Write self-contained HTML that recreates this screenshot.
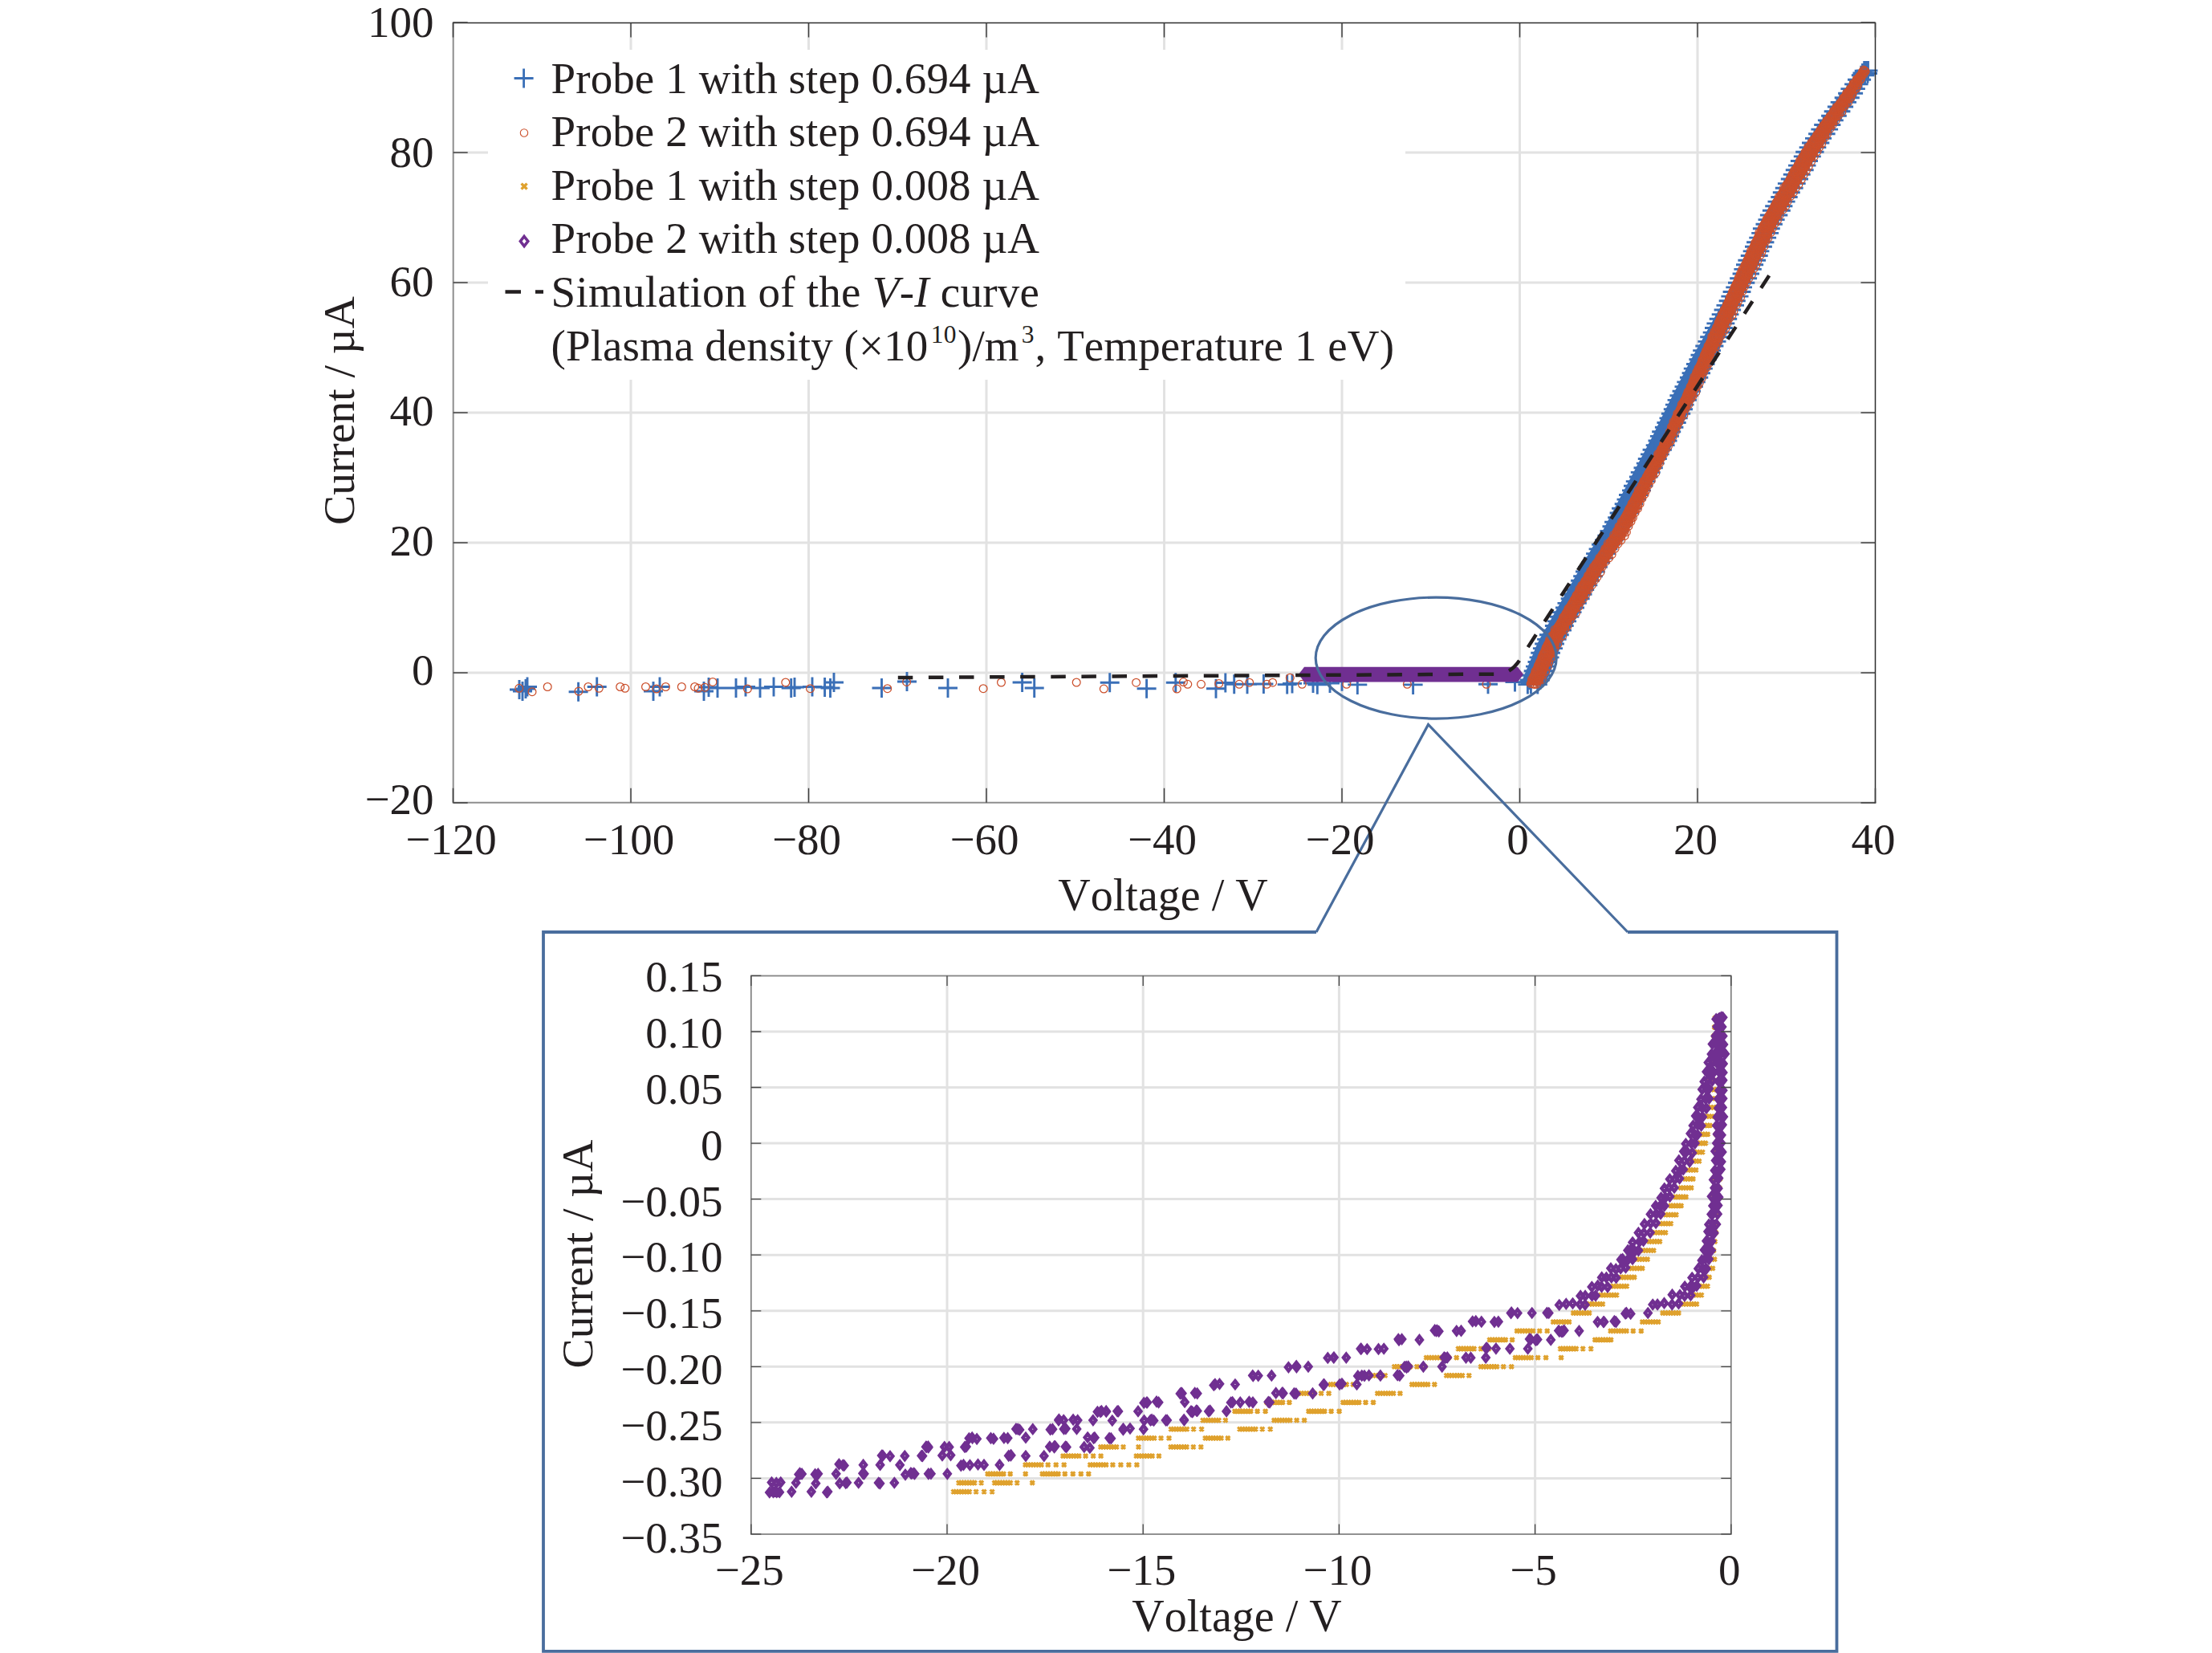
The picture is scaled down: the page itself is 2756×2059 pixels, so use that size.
<!DOCTYPE html>
<html><head><meta charset="utf-8"><title>V-I curve</title>
<style>html,body{margin:0;padding:0;background:#fff}body{width:2756px;height:2059px;overflow:hidden;font-family:"Liberation Serif",serif}</style>
</head><body>
<svg width="2756" height="2059" viewBox="0 0 2756 2059" style="display:block">
<rect width="2756" height="2059" fill="#fff"/>
<path d="M786.0,28.4V999.8M1007.5,28.4V999.8M1229.0,28.4V999.8M1450.5,28.4V999.8M1672.0,28.4V999.8M1893.5,28.4V999.8M2115.0,28.4V999.8M564.7,838.0H2336.5M564.7,676.0H2336.5M564.7,514.0H2336.5M564.7,352.0H2336.5M564.7,190.0H2336.5" stroke="#e2e2e2" stroke-width="3" fill="none"/>
<path d="M1894.5,852.6 L1896.8,847.0 L1899.1,841.3 L1901.3,835.7 L1903.7,830.1 L1906.0,824.5 L1908.3,818.9 L1910.6,813.2 L1912.9,807.6 L1915.3,802.0 L1918.1,796.4 L1921.3,790.7 L1924.6,785.1 L1927.8,779.5 L1931.0,773.9 L1934.2,768.3 L1937.4,762.6 L1940.6,757.0 L1943.8,751.4 L1947.0,745.8 L1950.2,740.2 L1953.4,734.5 L1956.6,728.9 L1959.9,723.3 L1963.1,717.7 L1966.3,712.0 L1969.6,706.4 L1972.9,700.8 L1976.2,695.2 L1979.5,689.6 L1982.8,683.9 L1986.0,678.3 L1989.6,672.7 L1993.4,667.1 L1996.6,661.5 L1999.6,655.8 L2002.6,650.2 L2005.5,644.6 L2008.5,639.0 L2011.5,633.3 L2014.4,627.7 L2017.4,622.1 L2020.4,616.5 L2023.3,610.9 L2026.3,605.2 L2029.3,599.6 L2032.3,594.0 L2035.2,588.4 L2038.2,582.8 L2041.2,577.1 L2044.1,571.5 L2047.1,565.9 L2050.1,560.3 L2053.0,554.6 L2056.0,549.0 L2058.9,543.4 L2061.6,537.8 L2064.3,532.2 L2067.1,526.5 L2069.8,520.9 L2072.6,515.3 L2075.4,509.7 L2078.2,504.1 L2081.0,498.4 L2083.9,492.8 L2086.7,487.2 L2089.6,481.6 L2092.4,475.9 L2095.3,470.3 L2098.2,464.7 L2101.1,459.1 L2104.0,453.5 L2106.9,447.8 L2110.0,442.2 L2113.2,436.6 L2116.3,431.0 L2119.5,425.4 L2122.6,419.7 L2125.8,414.1 L2128.9,408.5 L2132.0,402.9 L2135.2,397.2 L2138.3,391.6 L2141.5,386.0 L2144.6,380.4 L2147.8,374.8 L2150.9,369.1 L2154.1,363.5 L2157.2,357.9 L2160.3,352.3 L2163.0,346.7 L2165.6,341.0 L2168.2,335.4 L2170.9,329.8 L2173.5,324.2 L2176.1,318.5 L2178.7,312.9 L2181.3,307.3 L2184.0,301.7 L2186.6,296.1 L2189.2,290.4 L2191.8,284.8 L2194.5,279.2 L2197.6,273.6 L2200.8,268.0 L2203.9,262.3 L2207.1,256.7 L2210.2,251.1 L2213.4,245.5 L2216.5,239.8 L2219.7,234.2 L2222.8,228.6 L2226.0,223.0 L2229.1,217.4 L2232.3,211.7 L2235.5,206.1 L2238.6,200.5 L2241.8,194.9 L2245.0,189.3 L2248.8,183.6 L2252.6,178.0 L2256.3,172.4 L2260.1,166.8 L2263.9,161.1 L2267.7,155.5 L2271.9,149.9 L2276.1,144.3 L2280.3,138.7 L2284.6,133.0 L2288.8,127.4 L2293.0,121.8 L2297.2,116.2 L2301.5,110.6 L2305.7,104.9 L2309.9,99.3 L2314.2,93.7 L2318.4,88.1 L2331.4,88.1 L2327.8,93.7 L2324.2,99.3 L2320.5,104.9 L2316.9,110.6 L2313.3,116.2 L2309.7,121.8 L2305.9,127.4 L2301.9,133.0 L2297.8,138.7 L2293.8,144.3 L2289.8,149.9 L2285.8,155.5 L2282.3,161.1 L2278.7,166.8 L2275.2,172.4 L2271.6,178.0 L2268.0,183.6 L2264.5,189.3 L2261.2,194.9 L2258.0,200.5 L2254.9,206.1 L2251.7,211.7 L2248.5,217.4 L2245.3,223.0 L2242.1,228.6 L2238.9,234.2 L2235.7,239.8 L2232.5,245.5 L2229.3,251.1 L2226.2,256.7 L2223.0,262.3 L2219.8,268.0 L2216.6,273.6 L2213.4,279.2 L2210.7,284.8 L2208.1,290.4 L2205.4,296.1 L2202.8,301.7 L2200.1,307.3 L2197.5,312.9 L2194.8,318.5 L2192.2,324.2 L2189.5,329.8 L2186.8,335.4 L2184.2,341.0 L2181.5,346.7 L2178.9,352.3 L2176.4,357.9 L2173.8,363.5 L2171.3,369.1 L2168.8,374.8 L2166.2,380.4 L2163.7,386.0 L2161.2,391.6 L2158.7,397.2 L2156.1,402.9 L2153.6,408.5 L2151.1,414.1 L2148.6,419.7 L2146.0,425.4 L2143.5,431.0 L2141.0,436.6 L2138.5,442.2 L2135.9,447.8 L2133.2,453.5 L2130.4,459.1 L2127.6,464.7 L2124.8,470.3 L2122.1,475.9 L2119.3,481.6 L2116.5,487.2 L2113.7,492.8 L2111.0,498.4 L2108.3,504.1 L2105.5,509.7 L2102.8,515.3 L2100.0,520.9 L2097.3,526.5 L2094.5,532.2 L2091.8,537.8 L2089.1,543.4 L2086.2,549.0 L2083.2,554.6 L2080.3,560.3 L2077.3,565.9 L2074.3,571.5 L2071.4,577.1 L2068.4,582.8 L2065.4,588.4 L2062.5,594.0 L2059.5,599.6 L2056.5,605.2 L2053.5,610.9 L2050.6,616.5 L2047.6,622.1 L2044.6,627.7 L2041.7,633.3 L2038.7,639.0 L2035.7,644.6 L2032.8,650.2 L2029.8,655.8 L2026.8,661.5 L2023.6,667.1 L2019.8,672.7 L2016.3,678.3 L2013.0,683.9 L2009.7,689.6 L2006.5,695.2 L2003.2,700.8 L1999.9,706.4 L1996.7,712.0 L1993.4,717.7 L1990.2,723.3 L1987.0,728.9 L1983.8,734.5 L1980.7,740.2 L1977.5,745.8 L1974.3,751.4 L1971.1,757.0 L1967.9,762.6 L1964.7,768.3 L1961.5,773.9 L1958.3,779.5 L1955.2,785.1 L1952.0,790.7 L1948.8,796.4 L1945.9,802.0 L1943.6,807.6 L1941.3,813.2 L1939.0,818.9 L1936.7,824.5 L1934.4,830.1 L1932.1,835.7 L1929.9,841.3 L1927.6,847.0 L1925.3,852.6Z" fill="#3a6fb7"/>
<path d="M1891.4,852.6h24M1903.4,840.6v24M1903.8,852.6h24M1915.8,840.6v24M1893.8,847.0h24M1905.8,835.0v24M1906.9,847.0h24M1918.9,835.0v24M1895.7,841.3h24M1907.7,829.3v24M1908.3,841.3h24M1920.3,829.3v24M1898.7,835.7h24M1910.7,823.7v24M1910.9,835.7h24M1922.9,823.7v24M1901.0,830.1h24M1913.0,818.1v24M1913.1,830.1h24M1925.1,818.1v24M1903.5,824.5h24M1915.5,812.5v24M1915.4,824.5h24M1927.4,812.5v24M1905.6,818.9h24M1917.6,806.9v24M1918.5,818.9h24M1930.5,806.9v24M1907.3,813.2h24M1919.3,801.2v24M1919.9,813.2h24M1931.9,801.2v24M1909.9,807.6h24M1921.9,795.6v24M1923.0,807.6h24M1935.0,795.6v24M1912.2,802.0h24M1924.2,790.0v24M1924.9,802.0h24M1936.9,790.0v24M1915.1,796.4h24M1927.1,784.4v24M1927.6,796.4h24M1939.6,784.4v24M1918.0,790.7h24M1930.0,778.7v24M1930.7,790.7h24M1942.7,778.7v24M1921.6,785.1h24M1933.6,773.1v24M1934.0,785.1h24M1946.0,773.1v24M1924.9,779.5h24M1936.9,767.5v24M1936.7,779.5h24M1948.7,767.5v24M1927.9,773.9h24M1939.9,761.9v24M1940.1,773.9h24M1952.1,761.9v24M1930.7,768.3h24M1942.7,756.3v24M1943.4,768.3h24M1955.4,756.3v24M1934.1,762.6h24M1946.1,750.6v24M1946.5,762.6h24M1958.5,750.6v24M1938.0,757.0h24M1950.0,745.0v24M1950.0,757.0h24M1962.0,745.0v24M1940.5,751.4h24M1952.5,739.4v24M1952.8,751.4h24M1964.8,739.4v24M1944.7,745.8h24M1956.7,733.8v24M1956.6,745.8h24M1968.6,733.8v24M1947.0,740.2h24M1959.0,728.2v24M1959.5,740.2h24M1971.5,728.2v24M1950.6,734.5h24M1962.6,722.5v24M1962.2,734.5h24M1974.2,722.5v24M1953.8,728.9h24M1965.8,716.9v24M1966.3,728.9h24M1978.3,716.9v24M1957.1,723.3h24M1969.1,711.3v24M1969.1,723.3h24M1981.1,711.3v24M1960.2,717.7h24M1972.2,705.7v24M1972.9,717.7h24M1984.9,705.7v24M1963.0,712.0h24M1975.0,700.0v24M1975.8,712.0h24M1987.8,700.0v24M1966.3,706.4h24M1978.3,694.4v24M1978.8,706.4h24M1990.8,694.4v24M1970.2,700.8h24M1982.2,688.8v24M1982.1,700.8h24M1994.1,688.8v24M1973.2,695.2h24M1985.2,683.2v24M1985.9,695.2h24M1997.9,683.2v24M1976.1,689.6h24M1988.1,677.6v24M1989.2,689.6h24M2001.2,677.6v24M1979.6,683.9h24M1991.6,671.9v24M1991.4,683.9h24M2003.4,671.9v24M1983.1,678.3h24M1995.1,666.3v24M1994.8,678.3h24M2006.8,666.3v24M1987.1,672.7h24M1999.1,660.7v24M1998.6,672.7h24M2010.6,660.7v24M1990.4,667.1h24M2002.4,655.1v24M2002.3,667.1h24M2014.3,655.1v24M1993.5,661.5h24M2005.5,649.5v24M2005.4,661.5h24M2017.4,649.5v24M1996.5,655.8h24M2008.5,643.8v24M2008.5,655.8h24M2020.5,643.8v24M1999.1,650.2h24M2011.1,638.2v24M2011.1,650.2h24M2023.1,638.2v24M2003.2,644.6h24M2015.2,632.6v24M2014.2,644.6h24M2026.2,632.6v24M2005.6,639.0h24M2017.6,627.0v24M2018.0,639.0h24M2030.0,627.0v24M2008.1,633.3h24M2020.1,621.3v24M2021.0,633.3h24M2033.0,621.3v24M2011.7,627.7h24M2023.7,615.7v24M2023.0,627.7h24M2035.0,615.7v24M2014.5,622.1h24M2026.5,610.1v24M2026.7,622.1h24M2038.7,610.1v24M2017.0,616.5h24M2029.0,604.5v24M2029.2,616.5h24M2041.2,604.5v24M2021.0,610.9h24M2033.0,598.9v24M2033.0,610.9h24M2045.0,598.9v24M2023.0,605.2h24M2035.0,593.2v24M2035.4,605.2h24M2047.4,593.2v24M2025.8,599.6h24M2037.8,587.6v24M2038.4,599.6h24M2050.4,587.6v24M2029.9,594.0h24M2041.9,582.0v24M2041.6,594.0h24M2053.6,582.0v24M2031.8,588.4h24M2043.8,576.4v24M2044.7,588.4h24M2056.7,576.4v24M2035.5,582.8h24M2047.5,570.8v24M2047.8,582.8h24M2059.8,570.8v24M2038.8,577.1h24M2050.8,565.1v24M2049.8,577.1h24M2061.8,565.1v24M2040.8,571.5h24M2052.8,559.5v24M2052.8,571.5h24M2064.8,559.5v24M2044.0,565.9h24M2056.0,553.9v24M2055.7,565.9h24M2067.7,553.9v24M2046.6,560.3h24M2058.6,548.3v24M2058.9,560.3h24M2070.9,548.3v24M2050.7,554.6h24M2062.7,542.6v24M2062.6,554.6h24M2074.6,542.6v24M2053.5,549.0h24M2065.5,537.0v24M2065.5,549.0h24M2077.5,537.0v24M2055.9,543.4h24M2067.9,531.4v24M2068.0,543.4h24M2080.0,531.4v24M2058.2,537.8h24M2070.2,525.8v24M2070.2,537.8h24M2082.2,525.8v24M2061.9,532.2h24M2073.9,520.2v24M2073.4,532.2h24M2085.4,520.2v24M2064.4,526.5h24M2076.4,514.5v24M2076.7,526.5h24M2088.7,514.5v24M2067.5,520.9h24M2079.5,508.9v24M2078.7,520.9h24M2090.7,508.9v24M2069.9,515.3h24M2081.9,503.3v24M2082.2,515.3h24M2094.2,503.3v24M2072.8,509.7h24M2084.8,497.7v24M2085.0,509.7h24M2097.0,497.7v24M2074.9,504.1h24M2086.9,492.1v24M2086.6,504.1h24M2098.6,492.1v24M2077.6,498.4h24M2089.6,486.4v24M2089.9,498.4h24M2101.9,486.4v24M2080.4,492.8h24M2092.4,480.8v24M2092.1,492.8h24M2104.1,480.8v24M2083.6,487.2h24M2095.6,475.2v24M2095.1,487.2h24M2107.1,475.2v24M2086.5,481.6h24M2098.5,469.6v24M2097.9,481.6h24M2109.9,469.6v24M2089.3,475.9h24M2101.3,463.9v24M2100.8,475.9h24M2112.8,463.9v24M2092.9,470.3h24M2104.9,458.3v24M2104.3,470.3h24M2116.3,458.3v24M2095.6,464.7h24M2107.6,452.7v24M2107.0,464.7h24M2119.0,452.7v24M2097.8,459.1h24M2109.8,447.1v24M2109.8,459.1h24M2121.8,447.1v24M2101.0,453.5h24M2113.0,441.5v24M2112.5,453.5h24M2124.5,441.5v24M2104.4,447.8h24M2116.4,435.8v24M2114.8,447.8h24M2126.8,435.8v24M2106.5,442.2h24M2118.5,430.2v24M2117.8,442.2h24M2129.8,430.2v24M2109.2,436.6h24M2121.2,424.6v24M2120.0,436.6h24M2132.0,424.6v24M2112.3,431.0h24M2124.3,419.0v24M2123.4,431.0h24M2135.4,419.0v24M2115.4,425.4h24M2127.4,413.4v24M2126.5,425.4h24M2138.5,413.4v24M2118.2,419.7h24M2130.2,407.7v24M2128.9,419.7h24M2140.9,407.7v24M2121.7,414.1h24M2133.7,402.1v24M2132.2,414.1h24M2144.2,402.1v24M2124.0,408.5h24M2136.0,396.5v24M2134.9,408.5h24M2146.9,396.5v24M2126.4,402.9h24M2138.4,390.9v24M2137.3,402.9h24M2149.3,390.9v24M2129.7,397.2h24M2141.7,385.2v24M2140.2,397.2h24M2152.2,385.2v24M2132.7,391.6h24M2144.7,379.6v24M2142.4,391.6h24M2154.4,379.6v24M2135.6,386.0h24M2147.6,374.0v24M2145.1,386.0h24M2157.1,374.0v24M2138.5,380.4h24M2150.5,368.4v24M2149.0,380.4h24M2161.0,368.4v24M2141.7,374.8h24M2153.7,362.8v24M2150.8,374.8h24M2162.8,362.8v24M2144.4,369.1h24M2156.4,357.1v24M2154.5,369.1h24M2166.5,357.1v24M2146.6,363.5h24M2158.6,351.5v24M2157.4,363.5h24M2169.4,351.5v24M2150.3,357.9h24M2162.3,345.9v24M2159.0,357.9h24M2171.0,345.9v24M2153.0,352.3h24M2165.0,340.3v24M2162.3,352.3h24M2174.3,340.3v24M2155.2,346.7h24M2167.2,334.7v24M2165.1,346.7h24M2177.1,334.7v24M2158.6,341.0h24M2170.6,329.0v24M2168.0,341.0h24M2180.0,329.0v24M2160.4,335.4h24M2172.4,323.4v24M2170.8,335.4h24M2182.8,323.4v24M2163.0,329.8h24M2175.0,317.8v24M2173.1,329.8h24M2185.1,317.8v24M2165.4,324.2h24M2177.4,312.2v24M2176.1,324.2h24M2188.1,312.2v24M2168.8,318.5h24M2180.8,306.5v24M2178.7,318.5h24M2190.7,306.5v24M2171.7,312.9h24M2183.7,300.9v24M2180.4,312.9h24M2192.4,300.9v24M2174.0,307.3h24M2186.0,295.3v24M2183.9,307.3h24M2195.9,295.3v24M2176.1,301.7h24M2188.1,289.7v24M2186.4,301.7h24M2198.4,289.7v24M2179.3,296.1h24M2191.3,284.1v24M2189.1,296.1h24M2201.1,284.1v24M2182.2,290.4h24M2194.2,278.4v24M2192.1,290.4h24M2204.1,278.4v24M2183.9,284.8h24M2195.9,272.8v24M2193.8,284.8h24M2205.8,272.8v24M2187.5,279.2h24M2199.5,267.2v24M2196.9,279.2h24M2208.9,267.2v24M2190.5,273.6h24M2202.5,261.6v24M2199.6,273.6h24M2211.6,261.6v24M2192.9,268.0h24M2204.9,256.0v24M2203.3,268.0h24M2215.3,256.0v24M2195.9,262.3h24M2207.9,250.3v24M2206.8,262.3h24M2218.8,250.3v24M2199.2,256.7h24M2211.2,244.7v24M2209.4,256.7h24M2221.4,244.7v24M2202.5,251.1h24M2214.5,239.1v24M2212.6,251.1h24M2224.6,239.1v24M2206.3,245.5h24M2218.3,233.5v24M2215.7,245.5h24M2227.7,233.5v24M2208.8,239.8h24M2220.8,227.8v24M2218.8,239.8h24M2230.8,227.8v24M2211.8,234.2h24M2223.8,222.2v24M2222.6,234.2h24M2234.6,222.2v24M2214.9,228.6h24M2226.9,216.6v24M2225.7,228.6h24M2237.7,216.6v24M2218.8,223.0h24M2230.8,211.0v24M2229.0,223.0h24M2241.0,211.0v24M2221.8,217.4h24M2233.8,205.4v24M2231.7,217.4h24M2243.7,205.4v24M2224.8,211.7h24M2236.8,199.7v24M2235.7,211.7h24M2247.7,199.7v24M2228.0,206.1h24M2240.0,194.1v24M2238.5,206.1h24M2250.5,194.1v24M2230.9,200.5h24M2242.9,188.5v24M2241.0,200.5h24M2253.0,188.5v24M2234.8,194.9h24M2246.8,182.9v24M2244.8,194.9h24M2256.8,182.9v24M2237.2,189.3h24M2249.2,177.3v24M2248.5,189.3h24M2260.5,177.3v24M2241.7,183.6h24M2253.7,171.6v24M2251.3,183.6h24M2263.3,171.6v24M2245.0,178.0h24M2257.0,166.0v24M2255.3,178.0h24M2267.3,166.0v24M2249.0,172.4h24M2261.0,160.4v24M2258.1,172.4h24M2270.1,160.4v24M2253.1,166.8h24M2265.1,154.8v24M2262.6,166.8h24M2274.6,154.8v24M2256.4,161.1h24M2268.4,149.1v24M2266.1,161.1h24M2278.1,149.1v24M2260.2,155.5h24M2272.2,143.5v24M2269.3,155.5h24M2281.3,143.5v24M2264.9,149.9h24M2276.9,137.9v24M2272.8,149.9h24M2284.8,137.9v24M2269.1,144.3h24M2281.1,132.3v24M2276.8,144.3h24M2288.8,132.3v24M2272.7,138.7h24M2284.7,126.7v24M2281.4,138.7h24M2293.4,126.7v24M2276.9,133.0h24M2288.9,121.0v24M2285.1,133.0h24M2297.1,121.0v24M2280.7,127.4h24M2292.7,115.4v24M2289.0,127.4h24M2301.0,115.4v24M2285.7,121.8h24M2297.7,109.8v24M2292.8,121.8h24M2304.8,109.8v24M2290.1,116.2h24M2302.1,104.2v24M2297.1,116.2h24M2309.1,104.2v24M2293.4,110.6h24M2305.4,98.6v24M2299.9,110.6h24M2311.9,98.6v24M2298.1,104.9h24M2310.1,92.9v24M2303.6,104.9h24M2315.6,92.9v24M2302.0,99.3h24M2314.0,87.3v24M2307.1,99.3h24M2319.1,87.3v24M2306.8,93.7h24M2318.8,81.7v24M2311.5,93.7h24M2323.5,81.7v24M2310.7,88.1h24M2322.7,76.1v24M2315.2,88.1h24M2327.2,76.1v24M2315.5,88.0h24M2327.5,76.0v24M2315.0,91.5h24M2327.0,79.5v24M2313.0,88.0h24M2325.0,76.0v24M2310.8,88.3h24M2322.8,76.3v24M2308.5,91.0h24M2320.5,79.0v24M635.0,859.0h24M647.0,847.0v24M639.0,861.0h24M651.0,849.0v24M643.0,858.0h24M655.0,846.0v24M645.0,855.5h24M657.0,843.5v24M708.6,861.7h24M720.6,849.7v24M731.7,855.5h24M743.7,843.5v24M802.0,861.0h24M814.0,849.0v24M810.0,855.5h24M822.0,843.5v24M865.0,861.0h24M877.0,849.0v24M871.0,856.0h24M883.0,844.0v24M882.0,857.0h24M894.0,845.0v24M905.0,857.0h24M917.0,845.0v24M917.0,855.5h24M929.0,843.5v24M935.0,857.0h24M947.0,845.0v24M952.0,855.5h24M964.0,843.5v24M973.7,857.0h24M985.7,845.0v24M978.0,856.0h24M990.0,844.0v24M1000.0,855.5h24M1012.0,843.5v24M1015.6,856.0h24M1027.6,844.0v24M1022.5,857.0h24M1034.5,845.0v24M1027.0,850.0h24M1039.0,838.0v24M1086.5,857.0h24M1098.5,845.0v24M1118.0,849.0h24M1130.0,837.0v24M1169.0,857.0h24M1181.0,845.0v24M1261.6,850.0h24M1273.6,838.0v24M1276.7,857.0h24M1288.7,845.0v24M1370.7,850.2h24M1382.7,838.2v24M1416.6,857.8h24M1428.6,845.8v24M1452.8,850.2h24M1464.8,838.2v24M1503.0,857.8h24M1515.0,845.8v24M1514.8,850.5h24M1526.8,838.5v24M1525.7,852.3h24M1537.7,840.3v24M1542.0,852.3h24M1554.0,840.3v24M1562.4,852.0h24M1574.4,840.0v24M1591.7,852.6h24M1603.7,840.6v24M1598.0,851.4h24M1610.0,839.4v24M1624.0,851.0h24M1636.0,839.0v24M1629.3,852.8h24M1641.3,840.8v24M1645.0,851.0h24M1657.0,839.0v24M1660.0,848.7h24M1672.0,836.7v24M1679.3,852.9h24M1691.3,840.9v24M1748.6,852.9h24M1760.6,840.9v24M1842.0,852.3h24M1854.0,840.3v24M1875.5,849.6h24M1887.5,837.6v24M1895.4,852.3h24M1907.4,840.3v24" stroke="#3a6fb7" stroke-width="2.9" fill="none"/>
<path d="M1903.2,852.6 L1905.3,847.0 L1907.3,841.3 L1909.5,835.7 L1912.0,830.1 L1914.4,824.5 L1916.9,818.9 L1919.4,813.2 L1921.8,807.6 L1924.3,802.0 L1927.3,796.4 L1930.7,790.7 L1934.0,785.1 L1937.4,779.5 L1940.7,773.9 L1944.1,768.3 L1947.4,762.6 L1950.8,757.0 L1954.1,751.4 L1957.5,745.8 L1960.9,740.2 L1964.2,734.5 L1967.6,728.9 L1970.9,723.3 L1974.3,717.7 L1977.9,712.0 L1981.5,706.4 L1985.1,700.8 L1988.7,695.2 L1992.4,689.6 L1996.0,683.9 L1999.6,678.3 L2003.5,672.7 L2007.6,667.1 L2011.0,661.5 L2014.0,655.8 L2017.0,650.2 L2020.0,644.6 L2023.0,639.0 L2026.0,633.3 L2029.1,627.7 L2032.1,622.1 L2035.1,616.5 L2038.1,610.9 L2041.1,605.2 L2044.1,599.6 L2047.2,594.0 L2050.2,588.4 L2053.2,582.8 L2056.2,577.1 L2059.2,571.5 L2062.2,565.9 L2065.3,560.3 L2068.3,554.6 L2071.3,549.0 L2074.0,543.4 L2076.5,537.8 L2079.0,532.2 L2081.5,526.5 L2084.0,520.9 L2086.5,515.3 L2089.2,509.7 L2091.8,504.1 L2094.5,498.4 L2097.2,492.8 L2099.9,487.2 L2102.5,481.6 L2104.9,475.9 L2107.4,470.3 L2109.8,464.7 L2112.2,459.1 L2114.7,453.5 L2117.1,447.8 L2119.6,442.2 L2122.0,436.6 L2124.5,431.0 L2127.0,425.4 L2129.5,419.7 L2132.0,414.1 L2134.5,408.5 L2137.1,402.9 L2139.6,397.2 L2142.1,391.6 L2144.6,386.0 L2147.1,380.4 L2149.7,374.8 L2152.2,369.1 L2154.7,363.5 L2157.2,357.9 L2159.7,352.3 L2162.3,346.7 L2165.0,341.0 L2167.6,335.4 L2170.2,329.8 L2172.8,324.2 L2175.4,318.5 L2178.1,312.9 L2180.7,307.3 L2183.3,301.7 L2185.9,296.1 L2188.5,290.4 L2191.2,284.8 L2193.8,279.2 L2196.9,273.6 L2200.1,268.0 L2203.3,262.3 L2206.6,256.7 L2209.8,251.1 L2213.0,245.5 L2216.3,239.8 L2219.5,234.2 L2222.7,228.6 L2226.0,223.0 L2229.2,217.4 L2232.4,211.7 L2235.6,206.1 L2238.9,200.5 L2242.1,194.9 L2245.4,189.3 L2249.1,183.6 L2252.9,178.0 L2256.6,172.4 L2260.3,166.8 L2264.1,161.1 L2267.8,155.5 L2272.0,149.9 L2276.1,144.3 L2280.3,138.7 L2284.5,133.0 L2288.7,127.4 L2292.8,121.8 L2296.9,116.2 L2301.0,110.6 L2305.1,104.9 L2309.1,99.3 L2313.2,93.7 L2317.3,88.1 L2325.4,88.1 L2322.3,93.7 L2319.1,99.3 L2315.9,104.9 L2312.7,110.6 L2309.6,116.2 L2306.4,121.8 L2303.0,127.4 L2299.2,133.0 L2295.4,138.7 L2291.7,144.3 L2287.9,149.9 L2284.1,155.5 L2280.8,161.1 L2277.5,166.8 L2274.2,172.4 L2270.9,178.0 L2267.6,183.6 L2264.2,189.3 L2261.0,194.9 L2257.7,200.5 L2254.4,206.1 L2251.1,211.7 L2247.9,217.4 L2244.6,223.0 L2241.3,228.6 L2238.0,234.2 L2234.8,239.8 L2231.5,245.5 L2228.2,251.1 L2224.9,256.7 L2221.7,262.3 L2218.4,268.0 L2215.2,273.6 L2212.0,279.2 L2209.3,284.8 L2206.6,290.4 L2204.0,296.1 L2201.3,301.7 L2198.6,307.3 L2196.0,312.9 L2193.3,318.5 L2190.6,324.2 L2188.0,329.8 L2185.3,335.4 L2182.6,341.0 L2180.0,346.7 L2177.3,352.3 L2174.6,357.9 L2171.9,363.5 L2169.2,369.1 L2166.5,374.8 L2163.8,380.4 L2161.1,386.0 L2158.3,391.6 L2155.6,397.2 L2152.9,402.9 L2150.2,408.5 L2147.5,414.1 L2144.8,419.7 L2142.1,425.4 L2139.4,431.0 L2136.7,436.6 L2134.1,442.2 L2131.4,447.8 L2128.8,453.5 L2126.2,459.1 L2123.6,464.7 L2120.9,470.3 L2118.3,475.9 L2115.7,481.6 L2112.8,487.2 L2109.9,492.8 L2107.0,498.4 L2104.0,504.1 L2101.1,509.7 L2098.2,515.3 L2095.5,520.9 L2092.8,526.5 L2090.1,532.2 L2087.3,537.8 L2084.6,543.4 L2081.9,549.0 L2079.2,554.6 L2076.5,560.3 L2073.8,565.9 L2071.0,571.5 L2068.3,577.1 L2065.6,582.8 L2062.9,588.4 L2060.1,594.0 L2057.4,599.6 L2054.7,605.2 L2052.0,610.9 L2049.2,616.5 L2046.5,622.1 L2043.8,627.7 L2041.1,633.3 L2038.3,639.0 L2035.6,644.6 L2032.9,650.2 L2030.2,655.8 L2027.4,661.5 L2024.3,667.1 L2020.1,672.7 L2016.1,678.3 L2012.4,683.9 L2008.7,689.6 L2005.0,695.2 L2001.3,700.8 L1997.6,706.4 L1993.9,712.0 L1990.2,717.7 L1986.9,723.3 L1983.5,728.9 L1980.2,734.5 L1976.9,740.2 L1973.6,745.8 L1970.3,751.4 L1967.0,757.0 L1963.6,762.6 L1960.3,768.3 L1957.0,773.9 L1953.7,779.5 L1950.4,785.1 L1947.0,790.7 L1943.7,796.4 L1940.7,802.0 L1938.3,807.6 L1935.9,813.2 L1933.5,818.9 L1931.0,824.5 L1928.6,830.1 L1926.2,835.7 L1923.7,841.3 L1921.3,847.0 L1918.8,852.6Z" fill="#cb4f2b" fill-opacity="0.9" stroke="#cb4f2b" stroke-opacity="0.9" stroke-width="3" stroke-linejoin="round"/>
<g stroke="#cb4f2b" stroke-width="1.25" fill="none"><circle cx="1907.0" cy="851.4" r="4.7"/><circle cx="1909.8" cy="852.2" r="4.7"/><circle cx="1912.0" cy="852.6" r="4.7"/><circle cx="1914.8" cy="852.4" r="4.7"/><circle cx="1917.7" cy="851.4" r="4.7"/><circle cx="1908.3" cy="846.2" r="4.7"/><circle cx="1912.0" cy="848.2" r="4.7"/><circle cx="1914.9" cy="846.7" r="4.7"/><circle cx="1918.5" cy="845.7" r="4.7"/><circle cx="1921.3" cy="846.4" r="4.7"/><circle cx="1910.6" cy="842.2" r="4.7"/><circle cx="1913.5" cy="841.6" r="4.7"/><circle cx="1917.3" cy="841.0" r="4.7"/><circle cx="1920.2" cy="840.1" r="4.7"/><circle cx="1922.6" cy="840.5" r="4.7"/><circle cx="1912.8" cy="836.0" r="4.7"/><circle cx="1916.2" cy="835.2" r="4.7"/><circle cx="1919.8" cy="836.3" r="4.7"/><circle cx="1922.2" cy="835.9" r="4.7"/><circle cx="1925.7" cy="836.8" r="4.7"/><circle cx="1916.2" cy="829.0" r="4.7"/><circle cx="1918.6" cy="830.8" r="4.7"/><circle cx="1921.4" cy="830.1" r="4.7"/><circle cx="1924.3" cy="830.6" r="4.7"/><circle cx="1928.5" cy="830.3" r="4.7"/><circle cx="1918.3" cy="824.7" r="4.7"/><circle cx="1921.3" cy="824.4" r="4.7"/><circle cx="1924.8" cy="825.7" r="4.7"/><circle cx="1927.4" cy="824.9" r="4.7"/><circle cx="1929.9" cy="825.0" r="4.7"/><circle cx="1920.9" cy="818.2" r="4.7"/><circle cx="1923.5" cy="819.3" r="4.7"/><circle cx="1926.1" cy="818.7" r="4.7"/><circle cx="1929.4" cy="817.8" r="4.7"/><circle cx="1932.3" cy="819.6" r="4.7"/><circle cx="1922.8" cy="814.3" r="4.7"/><circle cx="1925.5" cy="813.1" r="4.7"/><circle cx="1929.2" cy="814.3" r="4.7"/><circle cx="1932.7" cy="814.2" r="4.7"/><circle cx="1935.1" cy="813.0" r="4.7"/><circle cx="1926.1" cy="806.6" r="4.7"/><circle cx="1928.1" cy="806.9" r="4.7"/><circle cx="1931.2" cy="807.6" r="4.7"/><circle cx="1934.8" cy="806.9" r="4.7"/><circle cx="1937.1" cy="807.4" r="4.7"/><circle cx="1928.5" cy="802.5" r="4.7"/><circle cx="1931.0" cy="802.3" r="4.7"/><circle cx="1934.3" cy="800.7" r="4.7"/><circle cx="1937.7" cy="802.8" r="4.7"/><circle cx="1940.8" cy="802.8" r="4.7"/><circle cx="1930.4" cy="796.7" r="4.7"/><circle cx="1933.4" cy="795.2" r="4.7"/><circle cx="1936.7" cy="795.4" r="4.7"/><circle cx="1939.9" cy="795.1" r="4.7"/><circle cx="1942.5" cy="795.4" r="4.7"/><circle cx="1933.6" cy="791.8" r="4.7"/><circle cx="1937.5" cy="789.8" r="4.7"/><circle cx="1940.1" cy="790.3" r="4.7"/><circle cx="1943.3" cy="789.7" r="4.7"/><circle cx="1947.0" cy="792.1" r="4.7"/><circle cx="1937.0" cy="784.0" r="4.7"/><circle cx="1940.5" cy="784.5" r="4.7"/><circle cx="1944.2" cy="784.2" r="4.7"/><circle cx="1946.1" cy="786.4" r="4.7"/><circle cx="1949.9" cy="784.1" r="4.7"/><circle cx="1941.0" cy="780.8" r="4.7"/><circle cx="1944.5" cy="780.1" r="4.7"/><circle cx="1946.7" cy="779.1" r="4.7"/><circle cx="1949.7" cy="780.3" r="4.7"/><circle cx="1953.2" cy="780.3" r="4.7"/><circle cx="1944.8" cy="775.2" r="4.7"/><circle cx="1947.9" cy="774.7" r="4.7"/><circle cx="1950.9" cy="774.6" r="4.7"/><circle cx="1953.1" cy="773.9" r="4.7"/><circle cx="1956.3" cy="772.6" r="4.7"/><circle cx="1947.3" cy="768.8" r="4.7"/><circle cx="1951.4" cy="768.1" r="4.7"/><circle cx="1954.4" cy="769.6" r="4.7"/><circle cx="1957.4" cy="767.9" r="4.7"/><circle cx="1959.4" cy="767.5" r="4.7"/><circle cx="1951.2" cy="763.8" r="4.7"/><circle cx="1954.5" cy="762.6" r="4.7"/><circle cx="1957.3" cy="763.5" r="4.7"/><circle cx="1959.5" cy="763.1" r="4.7"/><circle cx="1963.7" cy="763.4" r="4.7"/><circle cx="1953.9" cy="757.8" r="4.7"/><circle cx="1957.2" cy="757.9" r="4.7"/><circle cx="1961.1" cy="756.7" r="4.7"/><circle cx="1963.3" cy="758.3" r="4.7"/><circle cx="1966.8" cy="756.1" r="4.7"/><circle cx="1958.3" cy="752.3" r="4.7"/><circle cx="1960.3" cy="752.3" r="4.7"/><circle cx="1964.4" cy="751.8" r="4.7"/><circle cx="1966.6" cy="751.5" r="4.7"/><circle cx="1969.3" cy="750.0" r="4.7"/><circle cx="1961.1" cy="747.0" r="4.7"/><circle cx="1964.0" cy="746.8" r="4.7"/><circle cx="1967.5" cy="745.0" r="4.7"/><circle cx="1969.7" cy="745.2" r="4.7"/><circle cx="1972.7" cy="746.0" r="4.7"/><circle cx="1963.9" cy="741.3" r="4.7"/><circle cx="1967.2" cy="740.0" r="4.7"/><circle cx="1970.5" cy="741.3" r="4.7"/><circle cx="1973.3" cy="741.3" r="4.7"/><circle cx="1976.4" cy="740.2" r="4.7"/><circle cx="1967.7" cy="733.6" r="4.7"/><circle cx="1970.1" cy="735.4" r="4.7"/><circle cx="1973.3" cy="734.5" r="4.7"/><circle cx="1977.1" cy="734.7" r="4.7"/><circle cx="1979.5" cy="734.6" r="4.7"/><circle cx="1970.6" cy="729.1" r="4.7"/><circle cx="1973.8" cy="728.3" r="4.7"/><circle cx="1977.5" cy="728.9" r="4.7"/><circle cx="1980.2" cy="729.6" r="4.7"/><circle cx="1983.6" cy="728.8" r="4.7"/><circle cx="1974.5" cy="723.8" r="4.7"/><circle cx="1977.4" cy="723.4" r="4.7"/><circle cx="1980.4" cy="724.5" r="4.7"/><circle cx="1983.7" cy="724.3" r="4.7"/><circle cx="1987.0" cy="722.6" r="4.7"/><circle cx="1978.4" cy="716.7" r="4.7"/><circle cx="1980.3" cy="717.5" r="4.7"/><circle cx="1983.2" cy="716.9" r="4.7"/><circle cx="1986.1" cy="718.1" r="4.7"/><circle cx="1990.1" cy="718.8" r="4.7"/><circle cx="1981.7" cy="711.0" r="4.7"/><circle cx="1985.0" cy="713.4" r="4.7"/><circle cx="1987.1" cy="713.3" r="4.7"/><circle cx="1990.3" cy="712.0" r="4.7"/><circle cx="1994.1" cy="713.0" r="4.7"/><circle cx="1985.1" cy="706.0" r="4.7"/><circle cx="1987.7" cy="705.9" r="4.7"/><circle cx="1991.4" cy="705.1" r="4.7"/><circle cx="1994.2" cy="706.3" r="4.7"/><circle cx="1996.4" cy="706.0" r="4.7"/><circle cx="1988.1" cy="702.2" r="4.7"/><circle cx="1992.2" cy="702.1" r="4.7"/><circle cx="1994.2" cy="700.1" r="4.7"/><circle cx="1997.1" cy="701.6" r="4.7"/><circle cx="2000.5" cy="699.8" r="4.7"/><circle cx="1992.8" cy="694.5" r="4.7"/><circle cx="1994.9" cy="696.4" r="4.7"/><circle cx="1998.5" cy="695.7" r="4.7"/><circle cx="2000.9" cy="693.9" r="4.7"/><circle cx="2004.8" cy="695.0" r="4.7"/><circle cx="1996.2" cy="690.4" r="4.7"/><circle cx="1998.4" cy="690.6" r="4.7"/><circle cx="2001.5" cy="690.6" r="4.7"/><circle cx="2005.1" cy="689.1" r="4.7"/><circle cx="2008.3" cy="690.8" r="4.7"/><circle cx="1999.6" cy="683.2" r="4.7"/><circle cx="2002.1" cy="683.0" r="4.7"/><circle cx="2005.1" cy="683.1" r="4.7"/><circle cx="2008.6" cy="683.4" r="4.7"/><circle cx="2012.3" cy="683.3" r="4.7"/><circle cx="2003.0" cy="677.0" r="4.7"/><circle cx="2005.9" cy="677.0" r="4.7"/><circle cx="2009.7" cy="678.5" r="4.7"/><circle cx="2012.1" cy="678.2" r="4.7"/><circle cx="2016.2" cy="677.2" r="4.7"/><circle cx="2007.1" cy="673.6" r="4.7"/><circle cx="2010.1" cy="672.7" r="4.7"/><circle cx="2013.6" cy="674.0" r="4.7"/><circle cx="2016.3" cy="673.6" r="4.7"/><circle cx="2019.9" cy="673.1" r="4.7"/><circle cx="2010.6" cy="666.0" r="4.7"/><circle cx="2013.8" cy="667.7" r="4.7"/><circle cx="2017.2" cy="666.1" r="4.7"/><circle cx="2020.1" cy="668.0" r="4.7"/><circle cx="2024.3" cy="667.6" r="4.7"/><circle cx="2014.3" cy="661.3" r="4.7"/><circle cx="2017.2" cy="661.3" r="4.7"/><circle cx="2020.4" cy="662.7" r="4.7"/><circle cx="2024.5" cy="661.6" r="4.7"/><circle cx="2026.6" cy="662.8" r="4.7"/><circle cx="2016.9" cy="655.5" r="4.7"/><circle cx="2020.6" cy="655.8" r="4.7"/><circle cx="2023.2" cy="655.8" r="4.7"/><circle cx="2026.0" cy="655.2" r="4.7"/><circle cx="2029.1" cy="655.5" r="4.7"/><circle cx="2020.3" cy="649.5" r="4.7"/><circle cx="2023.7" cy="650.3" r="4.7"/><circle cx="2026.8" cy="650.7" r="4.7"/><circle cx="2029.7" cy="651.3" r="4.7"/><circle cx="2032.2" cy="649.7" r="4.7"/><circle cx="2023.9" cy="645.0" r="4.7"/><circle cx="2025.8" cy="645.5" r="4.7"/><circle cx="2029.9" cy="644.9" r="4.7"/><circle cx="2032.6" cy="645.5" r="4.7"/><circle cx="2034.6" cy="644.7" r="4.7"/><circle cx="2027.0" cy="639.9" r="4.7"/><circle cx="2029.5" cy="640.1" r="4.7"/><circle cx="2032.5" cy="639.5" r="4.7"/><circle cx="2034.7" cy="637.7" r="4.7"/><circle cx="2037.3" cy="638.6" r="4.7"/><circle cx="2029.7" cy="633.7" r="4.7"/><circle cx="2032.5" cy="633.9" r="4.7"/><circle cx="2035.1" cy="632.0" r="4.7"/><circle cx="2038.3" cy="634.0" r="4.7"/><circle cx="2040.6" cy="633.4" r="4.7"/><circle cx="2033.0" cy="627.0" r="4.7"/><circle cx="2034.7" cy="627.1" r="4.7"/><circle cx="2038.3" cy="626.9" r="4.7"/><circle cx="2041.0" cy="629.1" r="4.7"/><circle cx="2043.3" cy="627.4" r="4.7"/><circle cx="2036.0" cy="622.4" r="4.7"/><circle cx="2038.5" cy="620.9" r="4.7"/><circle cx="2040.4" cy="621.4" r="4.7"/><circle cx="2043.8" cy="621.6" r="4.7"/><circle cx="2046.1" cy="620.7" r="4.7"/><circle cx="2038.9" cy="617.0" r="4.7"/><circle cx="2041.4" cy="615.9" r="4.7"/><circle cx="2043.7" cy="616.4" r="4.7"/><circle cx="2046.2" cy="615.4" r="4.7"/><circle cx="2049.3" cy="615.6" r="4.7"/><circle cx="2041.0" cy="610.7" r="4.7"/><circle cx="2044.6" cy="612.2" r="4.7"/><circle cx="2046.5" cy="610.2" r="4.7"/><circle cx="2048.6" cy="612.1" r="4.7"/><circle cx="2051.1" cy="611.1" r="4.7"/><circle cx="2045.4" cy="604.2" r="4.7"/><circle cx="2047.5" cy="605.3" r="4.7"/><circle cx="2050.0" cy="605.8" r="4.7"/><circle cx="2051.4" cy="606.4" r="4.7"/><circle cx="2054.2" cy="603.9" r="4.7"/><circle cx="2047.7" cy="599.1" r="4.7"/><circle cx="2049.5" cy="599.2" r="4.7"/><circle cx="2052.1" cy="600.6" r="4.7"/><circle cx="2053.9" cy="600.3" r="4.7"/><circle cx="2057.4" cy="598.6" r="4.7"/><circle cx="2051.3" cy="593.4" r="4.7"/><circle cx="2052.8" cy="593.7" r="4.7"/><circle cx="2055.9" cy="594.2" r="4.7"/><circle cx="2057.2" cy="593.8" r="4.7"/><circle cx="2059.3" cy="592.7" r="4.7"/><circle cx="2053.5" cy="589.6" r="4.7"/><circle cx="2055.6" cy="587.7" r="4.7"/><circle cx="2058.1" cy="587.5" r="4.7"/><circle cx="2060.0" cy="589.7" r="4.7"/><circle cx="2062.9" cy="589.2" r="4.7"/><circle cx="2057.4" cy="582.9" r="4.7"/><circle cx="2059.2" cy="581.5" r="4.7"/><circle cx="2061.3" cy="582.6" r="4.7"/><circle cx="2063.4" cy="583.2" r="4.7"/><circle cx="2064.8" cy="581.5" r="4.7"/><circle cx="2059.8" cy="576.7" r="4.7"/><circle cx="2061.5" cy="577.8" r="4.7"/><circle cx="2064.5" cy="576.5" r="4.7"/><circle cx="2066.0" cy="576.6" r="4.7"/><circle cx="2067.9" cy="576.8" r="4.7"/><circle cx="2062.4" cy="572.6" r="4.7"/><circle cx="2064.7" cy="570.7" r="4.7"/><circle cx="2067.2" cy="572.9" r="4.7"/><circle cx="2068.5" cy="570.5" r="4.7"/><circle cx="2070.1" cy="570.4" r="4.7"/><circle cx="2065.5" cy="565.2" r="4.7"/><circle cx="2067.8" cy="567.0" r="4.7"/><circle cx="2069.9" cy="565.6" r="4.7"/><circle cx="2071.3" cy="566.0" r="4.7"/><circle cx="2073.1" cy="565.4" r="4.7"/><circle cx="2069.5" cy="559.2" r="4.7"/><circle cx="2070.6" cy="560.6" r="4.7"/><circle cx="2072.9" cy="559.5" r="4.7"/><circle cx="2073.9" cy="559.6" r="4.7"/><circle cx="2075.8" cy="560.1" r="4.7"/><circle cx="2072.4" cy="553.3" r="4.7"/><circle cx="2072.9" cy="555.2" r="4.7"/><circle cx="2075.8" cy="554.6" r="4.7"/><circle cx="2077.1" cy="553.2" r="4.7"/><circle cx="2078.6" cy="555.8" r="4.7"/><circle cx="2075.6" cy="548.3" r="4.7"/><circle cx="2076.0" cy="548.1" r="4.7"/><circle cx="2078.2" cy="549.5" r="4.7"/><circle cx="2080.4" cy="549.6" r="4.7"/><circle cx="2081.6" cy="549.8" r="4.7"/><circle cx="2077.0" cy="544.2" r="4.7"/><circle cx="2078.9" cy="544.6" r="4.7"/><circle cx="2081.1" cy="542.9" r="4.7"/><circle cx="2082.0" cy="542.7" r="4.7"/><circle cx="2084.3" cy="544.0" r="4.7"/><circle cx="2080.2" cy="538.0" r="4.7"/><circle cx="2081.7" cy="537.0" r="4.7"/><circle cx="2083.6" cy="536.4" r="4.7"/><circle cx="2084.9" cy="537.7" r="4.7"/><circle cx="2087.5" cy="538.2" r="4.7"/><circle cx="2082.3" cy="531.5" r="4.7"/><circle cx="2085.0" cy="532.7" r="4.7"/><circle cx="2085.8" cy="530.8" r="4.7"/><circle cx="2087.8" cy="532.6" r="4.7"/><circle cx="2089.4" cy="531.5" r="4.7"/><circle cx="2084.7" cy="525.2" r="4.7"/><circle cx="2086.7" cy="526.3" r="4.7"/><circle cx="2089.0" cy="525.7" r="4.7"/><circle cx="2090.9" cy="527.2" r="4.7"/><circle cx="2092.3" cy="525.7" r="4.7"/><circle cx="2088.1" cy="520.2" r="4.7"/><circle cx="2089.1" cy="521.6" r="4.7"/><circle cx="2091.0" cy="522.2" r="4.7"/><circle cx="2093.1" cy="520.0" r="4.7"/><circle cx="2094.6" cy="520.7" r="4.7"/><circle cx="2089.6" cy="515.0" r="4.7"/><circle cx="2091.6" cy="516.6" r="4.7"/><circle cx="2093.4" cy="514.0" r="4.7"/><circle cx="2095.2" cy="515.0" r="4.7"/><circle cx="2098.2" cy="516.4" r="4.7"/><circle cx="2093.4" cy="509.2" r="4.7"/><circle cx="2094.3" cy="510.9" r="4.7"/><circle cx="2097.0" cy="508.4" r="4.7"/><circle cx="2098.8" cy="509.3" r="4.7"/><circle cx="2100.4" cy="509.2" r="4.7"/><circle cx="2095.1" cy="503.6" r="4.7"/><circle cx="2098.1" cy="503.0" r="4.7"/><circle cx="2100.1" cy="503.2" r="4.7"/><circle cx="2101.3" cy="505.0" r="4.7"/><circle cx="2104.0" cy="503.9" r="4.7"/><circle cx="2098.0" cy="499.6" r="4.7"/><circle cx="2099.8" cy="498.1" r="4.7"/><circle cx="2102.8" cy="497.1" r="4.7"/><circle cx="2104.2" cy="499.3" r="4.7"/><circle cx="2106.8" cy="497.1" r="4.7"/><circle cx="2101.4" cy="492.1" r="4.7"/><circle cx="2103.3" cy="493.9" r="4.7"/><circle cx="2104.9" cy="492.2" r="4.7"/><circle cx="2107.9" cy="493.1" r="4.7"/><circle cx="2109.1" cy="493.4" r="4.7"/><circle cx="2102.8" cy="487.9" r="4.7"/><circle cx="2106.3" cy="487.6" r="4.7"/><circle cx="2108.5" cy="485.9" r="4.7"/><circle cx="2109.8" cy="487.1" r="4.7"/><circle cx="2113.0" cy="488.5" r="4.7"/><circle cx="2106.0" cy="481.5" r="4.7"/><circle cx="2108.9" cy="480.7" r="4.7"/><circle cx="2111.0" cy="482.2" r="4.7"/><circle cx="2113.3" cy="482.3" r="4.7"/><circle cx="2115.3" cy="481.1" r="4.7"/><circle cx="2108.9" cy="474.8" r="4.7"/><circle cx="2110.4" cy="476.7" r="4.7"/><circle cx="2112.8" cy="474.7" r="4.7"/><circle cx="2114.8" cy="476.1" r="4.7"/><circle cx="2117.5" cy="477.3" r="4.7"/><circle cx="2110.6" cy="469.2" r="4.7"/><circle cx="2112.8" cy="470.3" r="4.7"/><circle cx="2116.0" cy="470.2" r="4.7"/><circle cx="2117.7" cy="470.1" r="4.7"/><circle cx="2120.6" cy="470.8" r="4.7"/><circle cx="2113.6" cy="463.6" r="4.7"/><circle cx="2116.3" cy="464.1" r="4.7"/><circle cx="2118.3" cy="464.3" r="4.7"/><circle cx="2121.0" cy="463.9" r="4.7"/><circle cx="2122.7" cy="464.0" r="4.7"/><circle cx="2115.9" cy="458.6" r="4.7"/><circle cx="2118.1" cy="460.5" r="4.7"/><circle cx="2120.8" cy="458.3" r="4.7"/><circle cx="2123.7" cy="459.5" r="4.7"/><circle cx="2126.4" cy="458.0" r="4.7"/><circle cx="2118.8" cy="454.6" r="4.7"/><circle cx="2120.1" cy="452.9" r="4.7"/><circle cx="2122.8" cy="452.6" r="4.7"/><circle cx="2126.5" cy="453.7" r="4.7"/><circle cx="2128.9" cy="453.1" r="4.7"/><circle cx="2120.4" cy="448.6" r="4.7"/><circle cx="2123.9" cy="446.7" r="4.7"/><circle cx="2126.0" cy="448.2" r="4.7"/><circle cx="2128.0" cy="447.5" r="4.7"/><circle cx="2130.4" cy="447.0" r="4.7"/><circle cx="2123.4" cy="441.4" r="4.7"/><circle cx="2125.1" cy="441.7" r="4.7"/><circle cx="2128.6" cy="441.3" r="4.7"/><circle cx="2130.7" cy="441.4" r="4.7"/><circle cx="2134.0" cy="442.4" r="4.7"/><circle cx="2125.4" cy="436.7" r="4.7"/><circle cx="2128.4" cy="435.5" r="4.7"/><circle cx="2130.4" cy="437.1" r="4.7"/><circle cx="2133.4" cy="436.0" r="4.7"/><circle cx="2135.9" cy="437.9" r="4.7"/><circle cx="2127.9" cy="430.7" r="4.7"/><circle cx="2131.3" cy="432.4" r="4.7"/><circle cx="2133.3" cy="430.1" r="4.7"/><circle cx="2136.5" cy="430.1" r="4.7"/><circle cx="2138.2" cy="432.1" r="4.7"/><circle cx="2130.5" cy="426.4" r="4.7"/><circle cx="2133.3" cy="424.4" r="4.7"/><circle cx="2135.4" cy="425.5" r="4.7"/><circle cx="2139.0" cy="426.5" r="4.7"/><circle cx="2141.0" cy="425.7" r="4.7"/><circle cx="2132.6" cy="419.1" r="4.7"/><circle cx="2135.9" cy="420.9" r="4.7"/><circle cx="2138.2" cy="419.7" r="4.7"/><circle cx="2141.9" cy="421.0" r="4.7"/><circle cx="2143.9" cy="418.7" r="4.7"/><circle cx="2135.6" cy="412.9" r="4.7"/><circle cx="2139.1" cy="413.8" r="4.7"/><circle cx="2141.9" cy="414.4" r="4.7"/><circle cx="2144.6" cy="413.2" r="4.7"/><circle cx="2147.4" cy="413.3" r="4.7"/><circle cx="2138.6" cy="407.6" r="4.7"/><circle cx="2140.6" cy="408.2" r="4.7"/><circle cx="2144.0" cy="408.2" r="4.7"/><circle cx="2146.3" cy="407.8" r="4.7"/><circle cx="2150.0" cy="409.6" r="4.7"/><circle cx="2141.0" cy="401.6" r="4.7"/><circle cx="2144.1" cy="401.8" r="4.7"/><circle cx="2146.7" cy="403.0" r="4.7"/><circle cx="2149.7" cy="402.3" r="4.7"/><circle cx="2152.3" cy="403.1" r="4.7"/><circle cx="2143.1" cy="397.1" r="4.7"/><circle cx="2145.5" cy="397.6" r="4.7"/><circle cx="2149.1" cy="396.5" r="4.7"/><circle cx="2152.5" cy="398.0" r="4.7"/><circle cx="2155.1" cy="396.3" r="4.7"/><circle cx="2145.2" cy="391.4" r="4.7"/><circle cx="2148.2" cy="391.5" r="4.7"/><circle cx="2151.8" cy="390.3" r="4.7"/><circle cx="2155.0" cy="390.5" r="4.7"/><circle cx="2158.2" cy="392.4" r="4.7"/><circle cx="2148.2" cy="385.7" r="4.7"/><circle cx="2151.9" cy="385.0" r="4.7"/><circle cx="2154.9" cy="387.4" r="4.7"/><circle cx="2157.8" cy="386.9" r="4.7"/><circle cx="2160.1" cy="387.4" r="4.7"/><circle cx="2151.3" cy="379.4" r="4.7"/><circle cx="2154.3" cy="381.6" r="4.7"/><circle cx="2156.4" cy="380.0" r="4.7"/><circle cx="2160.5" cy="379.4" r="4.7"/><circle cx="2163.8" cy="379.8" r="4.7"/><circle cx="2153.3" cy="375.9" r="4.7"/><circle cx="2156.0" cy="374.1" r="4.7"/><circle cx="2159.6" cy="374.3" r="4.7"/><circle cx="2162.1" cy="373.9" r="4.7"/><circle cx="2165.5" cy="376.0" r="4.7"/><circle cx="2155.3" cy="369.9" r="4.7"/><circle cx="2158.5" cy="369.2" r="4.7"/><circle cx="2162.4" cy="368.7" r="4.7"/><circle cx="2166.0" cy="369.3" r="4.7"/><circle cx="2168.8" cy="370.2" r="4.7"/><circle cx="2158.5" cy="363.2" r="4.7"/><circle cx="2162.0" cy="362.9" r="4.7"/><circle cx="2165.5" cy="363.7" r="4.7"/><circle cx="2167.9" cy="364.3" r="4.7"/><circle cx="2171.3" cy="362.6" r="4.7"/><circle cx="2161.3" cy="357.2" r="4.7"/><circle cx="2164.3" cy="359.3" r="4.7"/><circle cx="2167.6" cy="358.4" r="4.7"/><circle cx="2170.5" cy="356.5" r="4.7"/><circle cx="2173.5" cy="356.9" r="4.7"/><circle cx="2163.3" cy="353.4" r="4.7"/><circle cx="2166.2" cy="351.5" r="4.7"/><circle cx="2170.3" cy="350.9" r="4.7"/><circle cx="2172.7" cy="351.9" r="4.7"/><circle cx="2176.3" cy="351.9" r="4.7"/><circle cx="2166.1" cy="345.8" r="4.7"/><circle cx="2169.5" cy="346.6" r="4.7"/><circle cx="2172.2" cy="347.9" r="4.7"/><circle cx="2175.7" cy="345.7" r="4.7"/><circle cx="2178.9" cy="347.0" r="4.7"/><circle cx="2168.4" cy="340.4" r="4.7"/><circle cx="2171.3" cy="341.4" r="4.7"/><circle cx="2175.4" cy="340.6" r="4.7"/><circle cx="2179.0" cy="340.9" r="4.7"/><circle cx="2182.8" cy="341.7" r="4.7"/><circle cx="2170.5" cy="335.5" r="4.7"/><circle cx="2174.5" cy="334.7" r="4.7"/><circle cx="2177.4" cy="336.2" r="4.7"/><circle cx="2180.7" cy="335.6" r="4.7"/><circle cx="2185.4" cy="334.4" r="4.7"/><circle cx="2173.8" cy="330.2" r="4.7"/><circle cx="2177.7" cy="328.9" r="4.7"/><circle cx="2180.4" cy="329.2" r="4.7"/><circle cx="2183.4" cy="330.9" r="4.7"/><circle cx="2187.9" cy="330.4" r="4.7"/><circle cx="2176.8" cy="324.1" r="4.7"/><circle cx="2180.2" cy="324.0" r="4.7"/><circle cx="2182.9" cy="323.1" r="4.7"/><circle cx="2186.3" cy="322.9" r="4.7"/><circle cx="2189.9" cy="324.9" r="4.7"/><circle cx="2179.3" cy="317.9" r="4.7"/><circle cx="2182.6" cy="318.4" r="4.7"/><circle cx="2186.3" cy="318.6" r="4.7"/><circle cx="2189.0" cy="318.9" r="4.7"/><circle cx="2193.5" cy="317.8" r="4.7"/><circle cx="2181.3" cy="312.2" r="4.7"/><circle cx="2185.5" cy="314.2" r="4.7"/><circle cx="2188.9" cy="312.4" r="4.7"/><circle cx="2192.6" cy="312.4" r="4.7"/><circle cx="2195.1" cy="314.1" r="4.7"/><circle cx="2184.5" cy="308.6" r="4.7"/><circle cx="2187.7" cy="308.3" r="4.7"/><circle cx="2191.5" cy="308.3" r="4.7"/><circle cx="2194.6" cy="307.9" r="4.7"/><circle cx="2198.2" cy="306.8" r="4.7"/><circle cx="2186.3" cy="302.8" r="4.7"/><circle cx="2189.9" cy="300.4" r="4.7"/><circle cx="2193.3" cy="302.9" r="4.7"/><circle cx="2197.1" cy="300.7" r="4.7"/><circle cx="2200.1" cy="300.4" r="4.7"/><circle cx="2189.8" cy="296.7" r="4.7"/><circle cx="2192.4" cy="296.3" r="4.7"/><circle cx="2196.3" cy="297.0" r="4.7"/><circle cx="2200.4" cy="297.2" r="4.7"/><circle cx="2202.9" cy="297.1" r="4.7"/><circle cx="2191.6" cy="289.6" r="4.7"/><circle cx="2195.1" cy="289.1" r="4.7"/><circle cx="2199.6" cy="291.3" r="4.7"/><circle cx="2202.8" cy="291.4" r="4.7"/><circle cx="2206.3" cy="289.8" r="4.7"/><circle cx="2195.1" cy="284.0" r="4.7"/><circle cx="2198.0" cy="284.6" r="4.7"/><circle cx="2201.1" cy="284.1" r="4.7"/><circle cx="2205.0" cy="285.4" r="4.7"/><circle cx="2208.6" cy="284.3" r="4.7"/><circle cx="2197.9" cy="279.5" r="4.7"/><circle cx="2200.2" cy="279.0" r="4.7"/><circle cx="2204.3" cy="280.0" r="4.7"/><circle cx="2207.7" cy="279.8" r="4.7"/><circle cx="2211.5" cy="278.4" r="4.7"/><circle cx="2201.0" cy="272.7" r="4.7"/><circle cx="2203.4" cy="272.7" r="4.7"/><circle cx="2208.0" cy="274.9" r="4.7"/><circle cx="2210.4" cy="273.6" r="4.7"/><circle cx="2214.6" cy="274.4" r="4.7"/><circle cx="2203.5" cy="268.9" r="4.7"/><circle cx="2206.9" cy="269.2" r="4.7"/><circle cx="2210.5" cy="267.2" r="4.7"/><circle cx="2214.6" cy="267.9" r="4.7"/><circle cx="2217.3" cy="268.3" r="4.7"/><circle cx="2207.2" cy="263.1" r="4.7"/><circle cx="2210.7" cy="261.9" r="4.7"/><circle cx="2213.9" cy="262.0" r="4.7"/><circle cx="2218.2" cy="261.2" r="4.7"/><circle cx="2221.7" cy="261.0" r="4.7"/><circle cx="2210.7" cy="256.7" r="4.7"/><circle cx="2213.6" cy="257.8" r="4.7"/><circle cx="2216.9" cy="256.6" r="4.7"/><circle cx="2220.9" cy="257.4" r="4.7"/><circle cx="2224.8" cy="257.1" r="4.7"/><circle cx="2212.9" cy="252.1" r="4.7"/><circle cx="2217.2" cy="251.8" r="4.7"/><circle cx="2220.1" cy="250.9" r="4.7"/><circle cx="2224.5" cy="251.3" r="4.7"/><circle cx="2227.2" cy="251.0" r="4.7"/><circle cx="2216.2" cy="244.9" r="4.7"/><circle cx="2220.5" cy="246.4" r="4.7"/><circle cx="2223.3" cy="244.5" r="4.7"/><circle cx="2227.0" cy="245.0" r="4.7"/><circle cx="2231.0" cy="244.5" r="4.7"/><circle cx="2220.5" cy="240.5" r="4.7"/><circle cx="2222.9" cy="241.1" r="4.7"/><circle cx="2226.5" cy="239.5" r="4.7"/><circle cx="2231.3" cy="240.7" r="4.7"/><circle cx="2234.6" cy="239.7" r="4.7"/><circle cx="2222.5" cy="233.4" r="4.7"/><circle cx="2226.5" cy="232.9" r="4.7"/><circle cx="2230.2" cy="235.0" r="4.7"/><circle cx="2234.2" cy="234.2" r="4.7"/><circle cx="2237.7" cy="234.1" r="4.7"/><circle cx="2226.2" cy="229.3" r="4.7"/><circle cx="2230.5" cy="228.4" r="4.7"/><circle cx="2233.7" cy="229.3" r="4.7"/><circle cx="2237.1" cy="227.8" r="4.7"/><circle cx="2241.1" cy="229.7" r="4.7"/><circle cx="2230.0" cy="223.5" r="4.7"/><circle cx="2233.4" cy="222.9" r="4.7"/><circle cx="2236.6" cy="223.3" r="4.7"/><circle cx="2239.9" cy="222.8" r="4.7"/><circle cx="2244.5" cy="223.6" r="4.7"/><circle cx="2232.7" cy="217.2" r="4.7"/><circle cx="2236.6" cy="217.1" r="4.7"/><circle cx="2240.3" cy="218.6" r="4.7"/><circle cx="2243.3" cy="217.8" r="4.7"/><circle cx="2247.8" cy="217.1" r="4.7"/><circle cx="2235.4" cy="211.9" r="4.7"/><circle cx="2239.2" cy="212.5" r="4.7"/><circle cx="2243.9" cy="211.8" r="4.7"/><circle cx="2246.4" cy="211.9" r="4.7"/><circle cx="2250.7" cy="212.3" r="4.7"/><circle cx="2239.7" cy="206.2" r="4.7"/><circle cx="2242.8" cy="207.4" r="4.7"/><circle cx="2246.2" cy="206.6" r="4.7"/><circle cx="2250.1" cy="206.9" r="4.7"/><circle cx="2253.4" cy="207.5" r="4.7"/><circle cx="2242.2" cy="200.2" r="4.7"/><circle cx="2245.5" cy="200.3" r="4.7"/><circle cx="2249.7" cy="201.1" r="4.7"/><circle cx="2253.3" cy="199.8" r="4.7"/><circle cx="2256.8" cy="201.2" r="4.7"/><circle cx="2245.3" cy="195.7" r="4.7"/><circle cx="2249.2" cy="194.1" r="4.7"/><circle cx="2252.6" cy="195.7" r="4.7"/><circle cx="2257.2" cy="195.3" r="4.7"/><circle cx="2260.4" cy="195.0" r="4.7"/><circle cx="2248.8" cy="189.6" r="4.7"/><circle cx="2253.1" cy="190.1" r="4.7"/><circle cx="2256.3" cy="188.7" r="4.7"/><circle cx="2260.1" cy="188.2" r="4.7"/><circle cx="2264.2" cy="188.8" r="4.7"/><circle cx="2252.6" cy="182.9" r="4.7"/><circle cx="2256.2" cy="182.8" r="4.7"/><circle cx="2259.2" cy="184.3" r="4.7"/><circle cx="2263.2" cy="182.9" r="4.7"/><circle cx="2266.8" cy="183.6" r="4.7"/><circle cx="2256.7" cy="177.6" r="4.7"/><circle cx="2260.5" cy="179.0" r="4.7"/><circle cx="2262.8" cy="178.9" r="4.7"/><circle cx="2267.5" cy="178.8" r="4.7"/><circle cx="2269.9" cy="178.9" r="4.7"/><circle cx="2259.5" cy="173.7" r="4.7"/><circle cx="2263.8" cy="171.7" r="4.7"/><circle cx="2266.4" cy="171.4" r="4.7"/><circle cx="2269.9" cy="173.2" r="4.7"/><circle cx="2273.5" cy="171.4" r="4.7"/><circle cx="2263.5" cy="167.9" r="4.7"/><circle cx="2267.3" cy="167.6" r="4.7"/><circle cx="2270.7" cy="167.9" r="4.7"/><circle cx="2274.1" cy="167.7" r="4.7"/><circle cx="2276.6" cy="167.3" r="4.7"/><circle cx="2267.6" cy="162.2" r="4.7"/><circle cx="2270.9" cy="160.5" r="4.7"/><circle cx="2273.6" cy="160.1" r="4.7"/><circle cx="2277.1" cy="159.9" r="4.7"/><circle cx="2280.3" cy="160.2" r="4.7"/><circle cx="2271.4" cy="156.5" r="4.7"/><circle cx="2273.8" cy="156.5" r="4.7"/><circle cx="2277.5" cy="155.7" r="4.7"/><circle cx="2280.8" cy="156.5" r="4.7"/><circle cx="2283.5" cy="155.3" r="4.7"/><circle cx="2275.7" cy="150.3" r="4.7"/><circle cx="2277.9" cy="150.2" r="4.7"/><circle cx="2281.7" cy="151.1" r="4.7"/><circle cx="2284.2" cy="151.3" r="4.7"/><circle cx="2287.4" cy="149.9" r="4.7"/><circle cx="2280.0" cy="144.6" r="4.7"/><circle cx="2282.4" cy="145.3" r="4.7"/><circle cx="2285.3" cy="144.2" r="4.7"/><circle cx="2288.3" cy="145.0" r="4.7"/><circle cx="2290.7" cy="144.1" r="4.7"/><circle cx="2284.4" cy="138.1" r="4.7"/><circle cx="2287.1" cy="138.4" r="4.7"/><circle cx="2289.4" cy="138.0" r="4.7"/><circle cx="2292.2" cy="140.0" r="4.7"/><circle cx="2295.1" cy="139.5" r="4.7"/><circle cx="2287.8" cy="133.3" r="4.7"/><circle cx="2290.9" cy="133.8" r="4.7"/><circle cx="2292.8" cy="133.7" r="4.7"/><circle cx="2296.6" cy="133.2" r="4.7"/><circle cx="2298.1" cy="132.5" r="4.7"/><circle cx="2292.9" cy="127.7" r="4.7"/><circle cx="2295.1" cy="128.2" r="4.7"/><circle cx="2298.0" cy="127.7" r="4.7"/><circle cx="2300.1" cy="127.8" r="4.7"/><circle cx="2302.7" cy="127.7" r="4.7"/><circle cx="2296.7" cy="121.7" r="4.7"/><circle cx="2299.2" cy="120.7" r="4.7"/><circle cx="2300.7" cy="120.5" r="4.7"/><circle cx="2303.9" cy="123.0" r="4.7"/><circle cx="2306.1" cy="121.4" r="4.7"/><circle cx="2300.6" cy="115.5" r="4.7"/><circle cx="2302.4" cy="116.0" r="4.7"/><circle cx="2304.5" cy="116.0" r="4.7"/><circle cx="2307.1" cy="117.4" r="4.7"/><circle cx="2308.4" cy="116.4" r="4.7"/><circle cx="2305.0" cy="110.8" r="4.7"/><circle cx="2307.1" cy="110.4" r="4.7"/><circle cx="2307.7" cy="110.2" r="4.7"/><circle cx="2310.4" cy="111.8" r="4.7"/><circle cx="2312.9" cy="110.5" r="4.7"/><circle cx="2308.9" cy="104.1" r="4.7"/><circle cx="2309.9" cy="103.6" r="4.7"/><circle cx="2311.3" cy="105.4" r="4.7"/><circle cx="2313.2" cy="106.2" r="4.7"/><circle cx="2314.8" cy="106.0" r="4.7"/><circle cx="2313.1" cy="98.6" r="4.7"/><circle cx="2314.5" cy="98.4" r="4.7"/><circle cx="2315.0" cy="100.1" r="4.7"/><circle cx="2317.4" cy="100.3" r="4.7"/><circle cx="2318.9" cy="98.1" r="4.7"/><circle cx="2316.8" cy="94.9" r="4.7"/><circle cx="2317.7" cy="95.0" r="4.7"/><circle cx="2319.6" cy="92.3" r="4.7"/><circle cx="2319.8" cy="94.1" r="4.7"/><circle cx="2322.2" cy="92.5" r="4.7"/><circle cx="2320.4" cy="89.1" r="4.7"/><circle cx="2321.9" cy="86.8" r="4.7"/><circle cx="2322.7" cy="88.3" r="4.7"/><circle cx="2323.8" cy="88.6" r="4.7"/><circle cx="2324.4" cy="88.9" r="4.7"/><circle cx="646.8" cy="857.3" r="4.9"/><circle cx="663.0" cy="861.7" r="4.9"/><circle cx="682.2" cy="855.5" r="4.9"/><circle cx="721.0" cy="861.0" r="4.9"/><circle cx="732.9" cy="855.5" r="4.9"/><circle cx="746.3" cy="857.3" r="4.9"/><circle cx="772.7" cy="855.5" r="4.9"/><circle cx="778.8" cy="857.3" r="4.9"/><circle cx="804.5" cy="855.5" r="4.9"/><circle cx="817.9" cy="858.0" r="4.9"/><circle cx="829.4" cy="855.5" r="4.9"/><circle cx="849.3" cy="855.5" r="4.9"/><circle cx="865.6" cy="855.5" r="4.9"/><circle cx="870.0" cy="857.3" r="4.9"/><circle cx="878.3" cy="856.2" r="4.9"/><circle cx="888.0" cy="849.4" r="4.9"/><circle cx="931.4" cy="858.0" r="4.9"/><circle cx="978.8" cy="850.0" r="4.9"/><circle cx="1009.5" cy="857.7" r="4.9"/><circle cx="1105.7" cy="857.7" r="4.9"/><circle cx="1129.6" cy="849.4" r="4.9"/><circle cx="1225.1" cy="857.7" r="4.9"/><circle cx="1247.5" cy="850.0" r="4.9"/><circle cx="1341.2" cy="850.0" r="4.9"/><circle cx="1375.3" cy="858.1" r="4.9"/><circle cx="1415.6" cy="850.2" r="4.9"/><circle cx="1466.3" cy="858.1" r="4.9"/><circle cx="1474.4" cy="849.6" r="4.9"/><circle cx="1479.8" cy="852.3" r="4.9"/><circle cx="1496.5" cy="852.3" r="4.9"/><circle cx="1518.7" cy="851.4" r="4.9"/><circle cx="1544.0" cy="852.3" r="4.9"/><circle cx="1556.7" cy="850.2" r="4.9"/><circle cx="1578.4" cy="852.3" r="4.9"/><circle cx="1585.6" cy="850.2" r="4.9"/><circle cx="1607.3" cy="844.2" r="4.9"/><circle cx="1622.3" cy="852.3" r="4.9"/><circle cx="1677.8" cy="852.3" r="4.9"/><circle cx="1753.3" cy="852.3" r="4.9"/><circle cx="1852.0" cy="852.3" r="4.9"/></g>
<path d="M1618,840.1 L1625,830.8 H1891 L1898,840.1 L1891,849.5 H1625 Z" fill="#702f91"/>
<path d="M1118.8,844 L1866,839.6 Q1884,839.3 1896,818 L2205,342" stroke="#231f20" stroke-width="4.5" stroke-dasharray="18.5 19.6" fill="none"/>
<rect x="608" y="62" width="1143" height="411" fill="#fff"/>
<path d="M564.7,28.4V999.8H2336.5" stroke="#8e8e8e" stroke-width="2" fill="none" stroke-linecap="square"/>
<path d="M564.7,28.4H2336.5V999.8" stroke="#2e2e2e" stroke-width="1.5" fill="none" stroke-linecap="square"/>
<path d="M564.5,999.8v-18M564.5,28.4v18M786.0,999.8v-18M786.0,28.4v18M1007.5,999.8v-18M1007.5,28.4v18M1229.0,999.8v-18M1229.0,28.4v18M1450.5,999.8v-18M1450.5,28.4v18M1672.0,999.8v-18M1672.0,28.4v18M1893.5,999.8v-18M1893.5,28.4v18M2115.0,999.8v-18M2115.0,28.4v18M2336.5,999.8v-18M2336.5,28.4v18M564.7,1000.0h18M2336.5,1000.0h-18M564.7,838.0h18M2336.5,838.0h-18M564.7,676.0h18M2336.5,676.0h-18M564.7,514.0h18M2336.5,514.0h-18M564.7,352.0h18M2336.5,352.0h-18M564.7,190.0h18M2336.5,190.0h-18M564.7,28.0h18M2336.5,28.0h-18" stroke="#404040" stroke-width="1.5" fill="none"/>
<ellipse cx="1789.2" cy="819.6" rx="150" ry="75.5" stroke="#496d9d" stroke-width="3.2" fill="none"/>
<path d="M1640,1161 L1779.5,902.5 L2028,1161" stroke="#496d9d" stroke-width="3.2" fill="none" stroke-linejoin="miter"/>
<path d="M1640,1161 H677 V2056.8 H2288.5 V1161 H2028" stroke="#496d9d" stroke-width="3.8" fill="none" stroke-linejoin="miter"/>
<path d="M1180.0,1215.5V1911.0M1424.2,1215.5V1911.0M1668.4,1215.5V1911.0M1912.6,1215.5V1911.0M935.8,1841.4H2156.8M935.8,1771.8H2156.8M935.8,1702.3H2156.8M935.8,1632.8H2156.8M935.8,1563.2H2156.8M935.8,1493.6H2156.8M935.8,1424.1H2156.8M935.8,1354.5H2156.8M935.8,1285.0H2156.8" stroke="#e2e2e2" stroke-width="3" fill="none"/>
<path d="M1185.5,1855.6l5.0,5.0M1185.5,1860.6l5.0,-5.0M1188.8,1855.6l5.0,5.0M1188.8,1860.6l5.0,-5.0M1192.1,1855.6l5.0,5.0M1192.1,1860.6l5.0,-5.0M1195.4,1855.6l5.0,5.0M1195.4,1860.6l5.0,-5.0M1198.7,1855.6l5.0,5.0M1198.7,1860.6l5.0,-5.0M1202.0,1855.6l5.0,5.0M1202.0,1860.6l5.0,-5.0M1205.3,1855.6l5.0,5.0M1205.3,1860.6l5.0,-5.0M1213.6,1855.6l5.0,5.0M1213.6,1860.6l5.0,-5.0M1223.6,1855.6l5.0,5.0M1223.6,1860.6l5.0,-5.0M1233.6,1855.6l5.0,5.0M1233.6,1860.6l5.0,-5.0M1192.0,1844.5l5.0,5.0M1192.0,1849.5l5.0,-5.0M1195.3,1844.5l5.0,5.0M1195.3,1849.5l5.0,-5.0M1198.6,1844.5l5.0,5.0M1198.6,1849.5l5.0,-5.0M1201.9,1844.5l5.0,5.0M1201.9,1849.5l5.0,-5.0M1205.2,1844.5l5.0,5.0M1205.2,1849.5l5.0,-5.0M1208.5,1844.5l5.0,5.0M1208.5,1849.5l5.0,-5.0M1211.8,1844.5l5.0,5.0M1211.8,1849.5l5.0,-5.0M1220.1,1844.5l5.0,5.0M1220.1,1849.5l5.0,-5.0M1236.6,1844.5l5.0,5.0M1236.6,1849.5l5.0,-5.0M1239.9,1844.5l5.0,5.0M1239.9,1849.5l5.0,-5.0M1243.2,1844.5l5.0,5.0M1243.2,1849.5l5.0,-5.0M1246.5,1844.5l5.0,5.0M1246.5,1849.5l5.0,-5.0M1249.8,1844.5l5.0,5.0M1249.8,1849.5l5.0,-5.0M1253.1,1844.5l5.0,5.0M1253.1,1849.5l5.0,-5.0M1256.4,1844.5l5.0,5.0M1256.4,1849.5l5.0,-5.0M1264.7,1844.5l5.0,5.0M1264.7,1849.5l5.0,-5.0M1283.7,1844.5l5.0,5.0M1283.7,1849.5l5.0,-5.0M1228.1,1833.3l5.0,5.0M1228.1,1838.3l5.0,-5.0M1231.4,1833.3l5.0,5.0M1231.4,1838.3l5.0,-5.0M1234.7,1833.3l5.0,5.0M1234.7,1838.3l5.0,-5.0M1238.0,1833.3l5.0,5.0M1238.0,1838.3l5.0,-5.0M1241.3,1833.3l5.0,5.0M1241.3,1838.3l5.0,-5.0M1244.6,1833.3l5.0,5.0M1244.6,1838.3l5.0,-5.0M1247.9,1833.3l5.0,5.0M1247.9,1838.3l5.0,-5.0M1256.2,1833.3l5.0,5.0M1256.2,1838.3l5.0,-5.0M1275.2,1833.3l5.0,5.0M1275.2,1838.3l5.0,-5.0M1296.2,1833.3l5.0,5.0M1296.2,1838.3l5.0,-5.0M1299.5,1833.3l5.0,5.0M1299.5,1838.3l5.0,-5.0M1302.8,1833.3l5.0,5.0M1302.8,1838.3l5.0,-5.0M1306.1,1833.3l5.0,5.0M1306.1,1838.3l5.0,-5.0M1309.4,1833.3l5.0,5.0M1309.4,1838.3l5.0,-5.0M1312.7,1833.3l5.0,5.0M1312.7,1838.3l5.0,-5.0M1316.0,1833.3l5.0,5.0M1316.0,1838.3l5.0,-5.0M1324.3,1833.3l5.0,5.0M1324.3,1838.3l5.0,-5.0M1334.3,1833.3l5.0,5.0M1334.3,1838.3l5.0,-5.0M1344.3,1833.3l5.0,5.0M1344.3,1838.3l5.0,-5.0M1353.8,1833.3l5.0,5.0M1353.8,1838.3l5.0,-5.0M1275.1,1822.2l5.0,5.0M1275.1,1827.2l5.0,-5.0M1278.4,1822.2l5.0,5.0M1278.4,1827.2l5.0,-5.0M1281.7,1822.2l5.0,5.0M1281.7,1827.2l5.0,-5.0M1285.0,1822.2l5.0,5.0M1285.0,1827.2l5.0,-5.0M1288.3,1822.2l5.0,5.0M1288.3,1827.2l5.0,-5.0M1291.6,1822.2l5.0,5.0M1291.6,1827.2l5.0,-5.0M1294.9,1822.2l5.0,5.0M1294.9,1827.2l5.0,-5.0M1303.2,1822.2l5.0,5.0M1303.2,1827.2l5.0,-5.0M1313.2,1822.2l5.0,5.0M1313.2,1827.2l5.0,-5.0M1323.2,1822.2l5.0,5.0M1323.2,1827.2l5.0,-5.0M1355.8,1822.2l5.0,5.0M1355.8,1827.2l5.0,-5.0M1359.1,1822.2l5.0,5.0M1359.1,1827.2l5.0,-5.0M1362.4,1822.2l5.0,5.0M1362.4,1827.2l5.0,-5.0M1365.7,1822.2l5.0,5.0M1365.7,1827.2l5.0,-5.0M1369.0,1822.2l5.0,5.0M1369.0,1827.2l5.0,-5.0M1372.3,1822.2l5.0,5.0M1372.3,1827.2l5.0,-5.0M1375.6,1822.2l5.0,5.0M1375.6,1827.2l5.0,-5.0M1383.9,1822.2l5.0,5.0M1383.9,1827.2l5.0,-5.0M1393.9,1822.2l5.0,5.0M1393.9,1827.2l5.0,-5.0M1403.9,1822.2l5.0,5.0M1403.9,1827.2l5.0,-5.0M1413.9,1822.2l5.0,5.0M1413.9,1827.2l5.0,-5.0M1322.0,1811.1l5.0,5.0M1322.0,1816.1l5.0,-5.0M1325.3,1811.1l5.0,5.0M1325.3,1816.1l5.0,-5.0M1328.6,1811.1l5.0,5.0M1328.6,1816.1l5.0,-5.0M1331.9,1811.1l5.0,5.0M1331.9,1816.1l5.0,-5.0M1335.2,1811.1l5.0,5.0M1335.2,1816.1l5.0,-5.0M1338.5,1811.1l5.0,5.0M1338.5,1816.1l5.0,-5.0M1341.8,1811.1l5.0,5.0M1341.8,1816.1l5.0,-5.0M1350.1,1811.1l5.0,5.0M1350.1,1816.1l5.0,-5.0M1359.6,1811.1l5.0,5.0M1359.6,1816.1l5.0,-5.0M1369.1,1811.1l5.0,5.0M1369.1,1816.1l5.0,-5.0M1413.3,1811.1l5.0,5.0M1413.3,1816.1l5.0,-5.0M1416.6,1811.1l5.0,5.0M1416.6,1816.1l5.0,-5.0M1419.9,1811.1l5.0,5.0M1419.9,1816.1l5.0,-5.0M1423.2,1811.1l5.0,5.0M1423.2,1816.1l5.0,-5.0M1426.5,1811.1l5.0,5.0M1426.5,1816.1l5.0,-5.0M1429.8,1811.1l5.0,5.0M1429.8,1816.1l5.0,-5.0M1433.1,1811.1l5.0,5.0M1433.1,1816.1l5.0,-5.0M1441.4,1811.1l5.0,5.0M1441.4,1816.1l5.0,-5.0M1368.9,1799.9l5.0,5.0M1368.9,1804.9l5.0,-5.0M1372.2,1799.9l5.0,5.0M1372.2,1804.9l5.0,-5.0M1375.5,1799.9l5.0,5.0M1375.5,1804.9l5.0,-5.0M1378.8,1799.9l5.0,5.0M1378.8,1804.9l5.0,-5.0M1382.1,1799.9l5.0,5.0M1382.1,1804.9l5.0,-5.0M1385.4,1799.9l5.0,5.0M1385.4,1804.9l5.0,-5.0M1388.7,1799.9l5.0,5.0M1388.7,1804.9l5.0,-5.0M1397.0,1799.9l5.0,5.0M1397.0,1804.9l5.0,-5.0M1416.0,1799.9l5.0,5.0M1416.0,1804.9l5.0,-5.0M1456.2,1799.9l5.0,5.0M1456.2,1804.9l5.0,-5.0M1459.5,1799.9l5.0,5.0M1459.5,1804.9l5.0,-5.0M1462.8,1799.9l5.0,5.0M1462.8,1804.9l5.0,-5.0M1466.1,1799.9l5.0,5.0M1466.1,1804.9l5.0,-5.0M1469.4,1799.9l5.0,5.0M1469.4,1804.9l5.0,-5.0M1472.7,1799.9l5.0,5.0M1472.7,1804.9l5.0,-5.0M1476.0,1799.9l5.0,5.0M1476.0,1804.9l5.0,-5.0M1484.3,1799.9l5.0,5.0M1484.3,1804.9l5.0,-5.0M1493.8,1799.9l5.0,5.0M1493.8,1804.9l5.0,-5.0M1415.9,1788.8l5.0,5.0M1415.9,1793.8l5.0,-5.0M1419.2,1788.8l5.0,5.0M1419.2,1793.8l5.0,-5.0M1422.5,1788.8l5.0,5.0M1422.5,1793.8l5.0,-5.0M1425.8,1788.8l5.0,5.0M1425.8,1793.8l5.0,-5.0M1429.1,1788.8l5.0,5.0M1429.1,1793.8l5.0,-5.0M1432.4,1788.8l5.0,5.0M1432.4,1793.8l5.0,-5.0M1435.7,1788.8l5.0,5.0M1435.7,1793.8l5.0,-5.0M1444.0,1788.8l5.0,5.0M1444.0,1793.8l5.0,-5.0M1454.0,1788.8l5.0,5.0M1454.0,1793.8l5.0,-5.0M1499.2,1788.8l5.0,5.0M1499.2,1793.8l5.0,-5.0M1502.5,1788.8l5.0,5.0M1502.5,1793.8l5.0,-5.0M1505.8,1788.8l5.0,5.0M1505.8,1793.8l5.0,-5.0M1509.1,1788.8l5.0,5.0M1509.1,1793.8l5.0,-5.0M1512.4,1788.8l5.0,5.0M1512.4,1793.8l5.0,-5.0M1515.7,1788.8l5.0,5.0M1515.7,1793.8l5.0,-5.0M1519.0,1788.8l5.0,5.0M1519.0,1793.8l5.0,-5.0M1527.3,1788.8l5.0,5.0M1527.3,1793.8l5.0,-5.0M1456.5,1777.7l5.0,5.0M1456.5,1782.7l5.0,-5.0M1459.8,1777.7l5.0,5.0M1459.8,1782.7l5.0,-5.0M1463.1,1777.7l5.0,5.0M1463.1,1782.7l5.0,-5.0M1466.4,1777.7l5.0,5.0M1466.4,1782.7l5.0,-5.0M1469.7,1777.7l5.0,5.0M1469.7,1782.7l5.0,-5.0M1473.0,1777.7l5.0,5.0M1473.0,1782.7l5.0,-5.0M1476.3,1777.7l5.0,5.0M1476.3,1782.7l5.0,-5.0M1484.6,1777.7l5.0,5.0M1484.6,1782.7l5.0,-5.0M1494.6,1777.7l5.0,5.0M1494.6,1782.7l5.0,-5.0M1542.1,1777.7l5.0,5.0M1542.1,1782.7l5.0,-5.0M1545.4,1777.7l5.0,5.0M1545.4,1782.7l5.0,-5.0M1548.7,1777.7l5.0,5.0M1548.7,1782.7l5.0,-5.0M1552.0,1777.7l5.0,5.0M1552.0,1782.7l5.0,-5.0M1555.3,1777.7l5.0,5.0M1555.3,1782.7l5.0,-5.0M1558.6,1777.7l5.0,5.0M1558.6,1782.7l5.0,-5.0M1561.9,1777.7l5.0,5.0M1561.9,1782.7l5.0,-5.0M1570.2,1777.7l5.0,5.0M1570.2,1782.7l5.0,-5.0M1580.2,1777.7l5.0,5.0M1580.2,1782.7l5.0,-5.0M1496.2,1766.6l5.0,5.0M1496.2,1771.6l5.0,-5.0M1499.5,1766.6l5.0,5.0M1499.5,1771.6l5.0,-5.0M1502.8,1766.6l5.0,5.0M1502.8,1771.6l5.0,-5.0M1506.1,1766.6l5.0,5.0M1506.1,1771.6l5.0,-5.0M1509.4,1766.6l5.0,5.0M1509.4,1771.6l5.0,-5.0M1512.7,1766.6l5.0,5.0M1512.7,1771.6l5.0,-5.0M1516.0,1766.6l5.0,5.0M1516.0,1771.6l5.0,-5.0M1524.3,1766.6l5.0,5.0M1524.3,1771.6l5.0,-5.0M1585.0,1766.6l5.0,5.0M1585.0,1771.6l5.0,-5.0M1588.3,1766.6l5.0,5.0M1588.3,1771.6l5.0,-5.0M1591.6,1766.6l5.0,5.0M1591.6,1771.6l5.0,-5.0M1594.9,1766.6l5.0,5.0M1594.9,1771.6l5.0,-5.0M1598.2,1766.6l5.0,5.0M1598.2,1771.6l5.0,-5.0M1601.5,1766.6l5.0,5.0M1601.5,1771.6l5.0,-5.0M1604.8,1766.6l5.0,5.0M1604.8,1771.6l5.0,-5.0M1613.1,1766.6l5.0,5.0M1613.1,1771.6l5.0,-5.0M1622.6,1766.6l5.0,5.0M1622.6,1771.6l5.0,-5.0M1536.0,1755.4l5.0,5.0M1536.0,1760.4l5.0,-5.0M1539.3,1755.4l5.0,5.0M1539.3,1760.4l5.0,-5.0M1542.6,1755.4l5.0,5.0M1542.6,1760.4l5.0,-5.0M1545.9,1755.4l5.0,5.0M1545.9,1760.4l5.0,-5.0M1549.2,1755.4l5.0,5.0M1549.2,1760.4l5.0,-5.0M1552.5,1755.4l5.0,5.0M1552.5,1760.4l5.0,-5.0M1555.8,1755.4l5.0,5.0M1555.8,1760.4l5.0,-5.0M1564.1,1755.4l5.0,5.0M1564.1,1760.4l5.0,-5.0M1574.1,1755.4l5.0,5.0M1574.1,1760.4l5.0,-5.0M1628.0,1755.4l5.0,5.0M1628.0,1760.4l5.0,-5.0M1631.3,1755.4l5.0,5.0M1631.3,1760.4l5.0,-5.0M1634.6,1755.4l5.0,5.0M1634.6,1760.4l5.0,-5.0M1637.9,1755.4l5.0,5.0M1637.9,1760.4l5.0,-5.0M1641.2,1755.4l5.0,5.0M1641.2,1760.4l5.0,-5.0M1644.5,1755.4l5.0,5.0M1644.5,1760.4l5.0,-5.0M1647.8,1755.4l5.0,5.0M1647.8,1760.4l5.0,-5.0M1656.1,1755.4l5.0,5.0M1656.1,1760.4l5.0,-5.0M1666.1,1755.4l5.0,5.0M1666.1,1760.4l5.0,-5.0M1575.8,1744.3l5.0,5.0M1575.8,1749.3l5.0,-5.0M1579.1,1744.3l5.0,5.0M1579.1,1749.3l5.0,-5.0M1582.4,1744.3l5.0,5.0M1582.4,1749.3l5.0,-5.0M1585.7,1744.3l5.0,5.0M1585.7,1749.3l5.0,-5.0M1589.0,1744.3l5.0,5.0M1589.0,1749.3l5.0,-5.0M1592.3,1744.3l5.0,5.0M1592.3,1749.3l5.0,-5.0M1595.6,1744.3l5.0,5.0M1595.6,1749.3l5.0,-5.0M1603.9,1744.3l5.0,5.0M1603.9,1749.3l5.0,-5.0M1670.9,1744.3l5.0,5.0M1670.9,1749.3l5.0,-5.0M1674.2,1744.3l5.0,5.0M1674.2,1749.3l5.0,-5.0M1677.5,1744.3l5.0,5.0M1677.5,1749.3l5.0,-5.0M1680.8,1744.3l5.0,5.0M1680.8,1749.3l5.0,-5.0M1684.1,1744.3l5.0,5.0M1684.1,1749.3l5.0,-5.0M1687.4,1744.3l5.0,5.0M1687.4,1749.3l5.0,-5.0M1690.7,1744.3l5.0,5.0M1690.7,1749.3l5.0,-5.0M1699.0,1744.3l5.0,5.0M1699.0,1749.3l5.0,-5.0M1708.5,1744.3l5.0,5.0M1708.5,1749.3l5.0,-5.0M1615.5,1733.2l5.0,5.0M1615.5,1738.2l5.0,-5.0M1618.8,1733.2l5.0,5.0M1618.8,1738.2l5.0,-5.0M1622.1,1733.2l5.0,5.0M1622.1,1738.2l5.0,-5.0M1625.4,1733.2l5.0,5.0M1625.4,1738.2l5.0,-5.0M1628.7,1733.2l5.0,5.0M1628.7,1738.2l5.0,-5.0M1632.0,1733.2l5.0,5.0M1632.0,1738.2l5.0,-5.0M1635.3,1733.2l5.0,5.0M1635.3,1738.2l5.0,-5.0M1643.6,1733.2l5.0,5.0M1643.6,1738.2l5.0,-5.0M1653.1,1733.2l5.0,5.0M1653.1,1738.2l5.0,-5.0M1713.8,1733.2l5.0,5.0M1713.8,1738.2l5.0,-5.0M1717.1,1733.2l5.0,5.0M1717.1,1738.2l5.0,-5.0M1720.4,1733.2l5.0,5.0M1720.4,1738.2l5.0,-5.0M1723.7,1733.2l5.0,5.0M1723.7,1738.2l5.0,-5.0M1727.0,1733.2l5.0,5.0M1727.0,1738.2l5.0,-5.0M1730.3,1733.2l5.0,5.0M1730.3,1738.2l5.0,-5.0M1733.6,1733.2l5.0,5.0M1733.6,1738.2l5.0,-5.0M1741.9,1733.2l5.0,5.0M1741.9,1738.2l5.0,-5.0M1655.3,1722.0l5.0,5.0M1655.3,1727.0l5.0,-5.0M1658.6,1722.0l5.0,5.0M1658.6,1727.0l5.0,-5.0M1661.9,1722.0l5.0,5.0M1661.9,1727.0l5.0,-5.0M1665.2,1722.0l5.0,5.0M1665.2,1727.0l5.0,-5.0M1668.5,1722.0l5.0,5.0M1668.5,1727.0l5.0,-5.0M1671.8,1722.0l5.0,5.0M1671.8,1727.0l5.0,-5.0M1675.1,1722.0l5.0,5.0M1675.1,1727.0l5.0,-5.0M1683.4,1722.0l5.0,5.0M1683.4,1727.0l5.0,-5.0M1756.7,1722.0l5.0,5.0M1756.7,1727.0l5.0,-5.0M1760.0,1722.0l5.0,5.0M1760.0,1727.0l5.0,-5.0M1763.3,1722.0l5.0,5.0M1763.3,1727.0l5.0,-5.0M1766.6,1722.0l5.0,5.0M1766.6,1727.0l5.0,-5.0M1769.9,1722.0l5.0,5.0M1769.9,1727.0l5.0,-5.0M1773.2,1722.0l5.0,5.0M1773.2,1727.0l5.0,-5.0M1776.5,1722.0l5.0,5.0M1776.5,1727.0l5.0,-5.0M1784.8,1722.0l5.0,5.0M1784.8,1727.0l5.0,-5.0M1695.1,1710.9l5.0,5.0M1695.1,1715.9l5.0,-5.0M1698.4,1710.9l5.0,5.0M1698.4,1715.9l5.0,-5.0M1701.7,1710.9l5.0,5.0M1701.7,1715.9l5.0,-5.0M1705.0,1710.9l5.0,5.0M1705.0,1715.9l5.0,-5.0M1708.3,1710.9l5.0,5.0M1708.3,1715.9l5.0,-5.0M1711.6,1710.9l5.0,5.0M1711.6,1715.9l5.0,-5.0M1714.9,1710.9l5.0,5.0M1714.9,1715.9l5.0,-5.0M1723.2,1710.9l5.0,5.0M1723.2,1715.9l5.0,-5.0M1799.7,1710.9l5.0,5.0M1799.7,1715.9l5.0,-5.0M1803.0,1710.9l5.0,5.0M1803.0,1715.9l5.0,-5.0M1806.3,1710.9l5.0,5.0M1806.3,1715.9l5.0,-5.0M1809.6,1710.9l5.0,5.0M1809.6,1715.9l5.0,-5.0M1812.9,1710.9l5.0,5.0M1812.9,1715.9l5.0,-5.0M1816.2,1710.9l5.0,5.0M1816.2,1715.9l5.0,-5.0M1819.5,1710.9l5.0,5.0M1819.5,1715.9l5.0,-5.0M1827.8,1710.9l5.0,5.0M1827.8,1715.9l5.0,-5.0M1734.8,1699.8l5.0,5.0M1734.8,1704.8l5.0,-5.0M1738.1,1699.8l5.0,5.0M1738.1,1704.8l5.0,-5.0M1741.4,1699.8l5.0,5.0M1741.4,1704.8l5.0,-5.0M1744.7,1699.8l5.0,5.0M1744.7,1704.8l5.0,-5.0M1748.0,1699.8l5.0,5.0M1748.0,1704.8l5.0,-5.0M1751.3,1699.8l5.0,5.0M1751.3,1704.8l5.0,-5.0M1754.6,1699.8l5.0,5.0M1754.6,1704.8l5.0,-5.0M1762.9,1699.8l5.0,5.0M1762.9,1704.8l5.0,-5.0M1772.9,1699.8l5.0,5.0M1772.9,1704.8l5.0,-5.0M1842.6,1699.8l5.0,5.0M1842.6,1704.8l5.0,-5.0M1845.9,1699.8l5.0,5.0M1845.9,1704.8l5.0,-5.0M1849.2,1699.8l5.0,5.0M1849.2,1704.8l5.0,-5.0M1852.5,1699.8l5.0,5.0M1852.5,1704.8l5.0,-5.0M1855.8,1699.8l5.0,5.0M1855.8,1704.8l5.0,-5.0M1859.1,1699.8l5.0,5.0M1859.1,1704.8l5.0,-5.0M1862.4,1699.8l5.0,5.0M1862.4,1704.8l5.0,-5.0M1870.7,1699.8l5.0,5.0M1870.7,1704.8l5.0,-5.0M1880.7,1699.8l5.0,5.0M1880.7,1704.8l5.0,-5.0M1774.6,1688.6l5.0,5.0M1774.6,1693.6l5.0,-5.0M1777.9,1688.6l5.0,5.0M1777.9,1693.6l5.0,-5.0M1781.2,1688.6l5.0,5.0M1781.2,1693.6l5.0,-5.0M1784.5,1688.6l5.0,5.0M1784.5,1693.6l5.0,-5.0M1787.8,1688.6l5.0,5.0M1787.8,1693.6l5.0,-5.0M1791.1,1688.6l5.0,5.0M1791.1,1693.6l5.0,-5.0M1794.4,1688.6l5.0,5.0M1794.4,1693.6l5.0,-5.0M1802.7,1688.6l5.0,5.0M1802.7,1693.6l5.0,-5.0M1812.2,1688.6l5.0,5.0M1812.2,1693.6l5.0,-5.0M1885.5,1688.6l5.0,5.0M1885.5,1693.6l5.0,-5.0M1888.8,1688.6l5.0,5.0M1888.8,1693.6l5.0,-5.0M1892.1,1688.6l5.0,5.0M1892.1,1693.6l5.0,-5.0M1895.4,1688.6l5.0,5.0M1895.4,1693.6l5.0,-5.0M1898.7,1688.6l5.0,5.0M1898.7,1693.6l5.0,-5.0M1902.0,1688.6l5.0,5.0M1902.0,1693.6l5.0,-5.0M1905.3,1688.6l5.0,5.0M1905.3,1693.6l5.0,-5.0M1913.6,1688.6l5.0,5.0M1913.6,1693.6l5.0,-5.0M1923.6,1688.6l5.0,5.0M1923.6,1693.6l5.0,-5.0M1942.6,1688.6l5.0,5.0M1942.6,1693.6l5.0,-5.0M1814.4,1677.5l5.0,5.0M1814.4,1682.5l5.0,-5.0M1817.7,1677.5l5.0,5.0M1817.7,1682.5l5.0,-5.0M1821.0,1677.5l5.0,5.0M1821.0,1682.5l5.0,-5.0M1824.3,1677.5l5.0,5.0M1824.3,1682.5l5.0,-5.0M1827.6,1677.5l5.0,5.0M1827.6,1682.5l5.0,-5.0M1830.9,1677.5l5.0,5.0M1830.9,1682.5l5.0,-5.0M1834.2,1677.5l5.0,5.0M1834.2,1682.5l5.0,-5.0M1842.5,1677.5l5.0,5.0M1842.5,1682.5l5.0,-5.0M1852.5,1677.5l5.0,5.0M1852.5,1682.5l5.0,-5.0M1941.6,1677.5l5.0,5.0M1941.6,1682.5l5.0,-5.0M1944.9,1677.5l5.0,5.0M1944.9,1682.5l5.0,-5.0M1948.2,1677.5l5.0,5.0M1948.2,1682.5l5.0,-5.0M1951.5,1677.5l5.0,5.0M1951.5,1682.5l5.0,-5.0M1954.8,1677.5l5.0,5.0M1954.8,1682.5l5.0,-5.0M1958.1,1677.5l5.0,5.0M1958.1,1682.5l5.0,-5.0M1961.4,1677.5l5.0,5.0M1961.4,1682.5l5.0,-5.0M1969.7,1677.5l5.0,5.0M1969.7,1682.5l5.0,-5.0M1979.7,1677.5l5.0,5.0M1979.7,1682.5l5.0,-5.0M1853.5,1666.4l5.0,5.0M1853.5,1671.4l5.0,-5.0M1856.8,1666.4l5.0,5.0M1856.8,1671.4l5.0,-5.0M1860.1,1666.4l5.0,5.0M1860.1,1671.4l5.0,-5.0M1863.4,1666.4l5.0,5.0M1863.4,1671.4l5.0,-5.0M1866.7,1666.4l5.0,5.0M1866.7,1671.4l5.0,-5.0M1870.0,1666.4l5.0,5.0M1870.0,1671.4l5.0,-5.0M1873.3,1666.4l5.0,5.0M1873.3,1671.4l5.0,-5.0M1881.6,1666.4l5.0,5.0M1881.6,1671.4l5.0,-5.0M1984.8,1666.4l5.0,5.0M1984.8,1671.4l5.0,-5.0M1988.1,1666.4l5.0,5.0M1988.1,1671.4l5.0,-5.0M1991.4,1666.4l5.0,5.0M1991.4,1671.4l5.0,-5.0M1994.7,1666.4l5.0,5.0M1994.7,1671.4l5.0,-5.0M1998.0,1666.4l5.0,5.0M1998.0,1671.4l5.0,-5.0M2001.3,1666.4l5.0,5.0M2001.3,1671.4l5.0,-5.0M2004.6,1666.4l5.0,5.0M2004.6,1671.4l5.0,-5.0M1887.6,1655.3l5.0,5.0M1887.6,1660.3l5.0,-5.0M1890.9,1655.3l5.0,5.0M1890.9,1660.3l5.0,-5.0M1894.2,1655.3l5.0,5.0M1894.2,1660.3l5.0,-5.0M1897.5,1655.3l5.0,5.0M1897.5,1660.3l5.0,-5.0M1900.8,1655.3l5.0,5.0M1900.8,1660.3l5.0,-5.0M1904.1,1655.3l5.0,5.0M1904.1,1660.3l5.0,-5.0M1907.4,1655.3l5.0,5.0M1907.4,1660.3l5.0,-5.0M1915.7,1655.3l5.0,5.0M1915.7,1660.3l5.0,-5.0M1925.2,1655.3l5.0,5.0M1925.2,1660.3l5.0,-5.0M2004.2,1655.3l5.0,5.0M2004.2,1660.3l5.0,-5.0M2007.5,1655.3l5.0,5.0M2007.5,1660.3l5.0,-5.0M2010.8,1655.3l5.0,5.0M2010.8,1660.3l5.0,-5.0M2014.1,1655.3l5.0,5.0M2014.1,1660.3l5.0,-5.0M2017.4,1655.3l5.0,5.0M2017.4,1660.3l5.0,-5.0M2020.7,1655.3l5.0,5.0M2020.7,1660.3l5.0,-5.0M2024.0,1655.3l5.0,5.0M2024.0,1660.3l5.0,-5.0M2032.3,1655.3l5.0,5.0M2032.3,1660.3l5.0,-5.0M2042.3,1655.3l5.0,5.0M2042.3,1660.3l5.0,-5.0M1932.7,1644.1l5.0,5.0M1932.7,1649.1l5.0,-5.0M1936.0,1644.1l5.0,5.0M1936.0,1649.1l5.0,-5.0M1939.3,1644.1l5.0,5.0M1939.3,1649.1l5.0,-5.0M1942.6,1644.1l5.0,5.0M1942.6,1649.1l5.0,-5.0M1945.9,1644.1l5.0,5.0M1945.9,1649.1l5.0,-5.0M1949.2,1644.1l5.0,5.0M1949.2,1649.1l5.0,-5.0M1952.5,1644.1l5.0,5.0M1952.5,1649.1l5.0,-5.0M2043.8,1644.1l5.0,5.0M2043.8,1649.1l5.0,-5.0M2047.1,1644.1l5.0,5.0M2047.1,1649.1l5.0,-5.0M2050.4,1644.1l5.0,5.0M2050.4,1649.1l5.0,-5.0M2053.7,1644.1l5.0,5.0M2053.7,1649.1l5.0,-5.0M2057.0,1644.1l5.0,5.0M2057.0,1649.1l5.0,-5.0M2060.3,1644.1l5.0,5.0M2060.3,1649.1l5.0,-5.0M2063.6,1644.1l5.0,5.0M2063.6,1649.1l5.0,-5.0M1957.8,1633.0l5.0,5.0M1957.8,1638.0l5.0,-5.0M1961.1,1633.0l5.0,5.0M1961.1,1638.0l5.0,-5.0M1964.4,1633.0l5.0,5.0M1964.4,1638.0l5.0,-5.0M1967.7,1633.0l5.0,5.0M1967.7,1638.0l5.0,-5.0M1971.0,1633.0l5.0,5.0M1971.0,1638.0l5.0,-5.0M1974.3,1633.0l5.0,5.0M1974.3,1638.0l5.0,-5.0M1977.6,1633.0l5.0,5.0M1977.6,1638.0l5.0,-5.0M2069.1,1633.0l5.0,5.0M2069.1,1638.0l5.0,-5.0M2072.4,1633.0l5.0,5.0M2072.4,1638.0l5.0,-5.0M2075.7,1633.0l5.0,5.0M2075.7,1638.0l5.0,-5.0M2079.0,1633.0l5.0,5.0M2079.0,1638.0l5.0,-5.0M2082.3,1633.0l5.0,5.0M2082.3,1638.0l5.0,-5.0M2085.6,1633.0l5.0,5.0M2085.6,1638.0l5.0,-5.0M2088.9,1633.0l5.0,5.0M2088.9,1638.0l5.0,-5.0M1974.5,1621.9l5.0,5.0M1974.5,1626.9l5.0,-5.0M1977.8,1621.9l5.0,5.0M1977.8,1626.9l5.0,-5.0M1981.1,1621.9l5.0,5.0M1981.1,1626.9l5.0,-5.0M1984.4,1621.9l5.0,5.0M1984.4,1626.9l5.0,-5.0M1987.7,1621.9l5.0,5.0M1987.7,1626.9l5.0,-5.0M1991.0,1621.9l5.0,5.0M1991.0,1626.9l5.0,-5.0M1994.3,1621.9l5.0,5.0M1994.3,1626.9l5.0,-5.0M2094.9,1621.9l5.0,5.0M2094.9,1626.9l5.0,-5.0M2098.2,1621.9l5.0,5.0M2098.2,1626.9l5.0,-5.0M2101.5,1621.9l5.0,5.0M2101.5,1626.9l5.0,-5.0M2104.8,1621.9l5.0,5.0M2104.8,1626.9l5.0,-5.0M2108.1,1621.9l5.0,5.0M2108.1,1626.9l5.0,-5.0M2111.4,1621.9l5.0,5.0M2111.4,1626.9l5.0,-5.0M1991.9,1610.7l5.0,5.0M1991.9,1615.7l5.0,-5.0M1995.2,1610.7l5.0,5.0M1995.2,1615.7l5.0,-5.0M1998.5,1610.7l5.0,5.0M1998.5,1615.7l5.0,-5.0M2001.8,1610.7l5.0,5.0M2001.8,1615.7l5.0,-5.0M2005.1,1610.7l5.0,5.0M2005.1,1615.7l5.0,-5.0M2008.4,1610.7l5.0,5.0M2008.4,1615.7l5.0,-5.0M2011.7,1610.7l5.0,5.0M2011.7,1615.7l5.0,-5.0M2104.2,1610.7l5.0,5.0M2104.2,1615.7l5.0,-5.0M2107.5,1610.7l5.0,5.0M2107.5,1615.7l5.0,-5.0M2110.8,1610.7l5.0,5.0M2110.8,1615.7l5.0,-5.0M2114.1,1610.7l5.0,5.0M2114.1,1615.7l5.0,-5.0M2117.4,1610.7l5.0,5.0M2117.4,1615.7l5.0,-5.0M2004.5,1599.6l5.0,5.0M2004.5,1604.6l5.0,-5.0M2007.8,1599.6l5.0,5.0M2007.8,1604.6l5.0,-5.0M2011.1,1599.6l5.0,5.0M2011.1,1604.6l5.0,-5.0M2014.4,1599.6l5.0,5.0M2014.4,1604.6l5.0,-5.0M2017.7,1599.6l5.0,5.0M2017.7,1604.6l5.0,-5.0M2021.0,1599.6l5.0,5.0M2021.0,1604.6l5.0,-5.0M2024.3,1599.6l5.0,5.0M2024.3,1604.6l5.0,-5.0M2111.8,1599.6l5.0,5.0M2111.8,1604.6l5.0,-5.0M2115.1,1599.6l5.0,5.0M2115.1,1604.6l5.0,-5.0M2118.4,1599.6l5.0,5.0M2118.4,1604.6l5.0,-5.0M2121.7,1599.6l5.0,5.0M2121.7,1604.6l5.0,-5.0M2125.0,1599.6l5.0,5.0M2125.0,1604.6l5.0,-5.0M2017.2,1588.5l5.0,5.0M2017.2,1593.5l5.0,-5.0M2020.5,1588.5l5.0,5.0M2020.5,1593.5l5.0,-5.0M2023.8,1588.5l5.0,5.0M2023.8,1593.5l5.0,-5.0M2027.1,1588.5l5.0,5.0M2027.1,1593.5l5.0,-5.0M2030.4,1588.5l5.0,5.0M2030.4,1593.5l5.0,-5.0M2033.7,1588.5l5.0,5.0M2033.7,1593.5l5.0,-5.0M2117.2,1588.5l5.0,5.0M2117.2,1593.5l5.0,-5.0M2120.5,1588.5l5.0,5.0M2120.5,1593.5l5.0,-5.0M2123.8,1588.5l5.0,5.0M2123.8,1593.5l5.0,-5.0M2127.1,1588.5l5.0,5.0M2127.1,1593.5l5.0,-5.0M2027.2,1577.3l5.0,5.0M2027.2,1582.3l5.0,-5.0M2030.5,1577.3l5.0,5.0M2030.5,1582.3l5.0,-5.0M2033.8,1577.3l5.0,5.0M2033.8,1582.3l5.0,-5.0M2037.1,1577.3l5.0,5.0M2037.1,1582.3l5.0,-5.0M2040.4,1577.3l5.0,5.0M2040.4,1582.3l5.0,-5.0M2043.7,1577.3l5.0,5.0M2043.7,1582.3l5.0,-5.0M2121.5,1577.3l5.0,5.0M2121.5,1582.3l5.0,-5.0M2124.8,1577.3l5.0,5.0M2124.8,1582.3l5.0,-5.0M2128.1,1577.3l5.0,5.0M2128.1,1582.3l5.0,-5.0M2131.4,1577.3l5.0,5.0M2131.4,1582.3l5.0,-5.0M2036.9,1566.2l5.0,5.0M2036.9,1571.2l5.0,-5.0M2040.2,1566.2l5.0,5.0M2040.2,1571.2l5.0,-5.0M2043.5,1566.2l5.0,5.0M2043.5,1571.2l5.0,-5.0M2046.8,1566.2l5.0,5.0M2046.8,1571.2l5.0,-5.0M2050.1,1566.2l5.0,5.0M2050.1,1571.2l5.0,-5.0M2123.8,1566.2l5.0,5.0M2123.8,1571.2l5.0,-5.0M2127.1,1566.2l5.0,5.0M2127.1,1571.2l5.0,-5.0M2130.4,1566.2l5.0,5.0M2130.4,1571.2l5.0,-5.0M2133.7,1566.2l5.0,5.0M2133.7,1571.2l5.0,-5.0M2044.6,1555.1l5.0,5.0M2044.6,1560.1l5.0,-5.0M2047.9,1555.1l5.0,5.0M2047.9,1560.1l5.0,-5.0M2051.2,1555.1l5.0,5.0M2051.2,1560.1l5.0,-5.0M2054.5,1555.1l5.0,5.0M2054.5,1560.1l5.0,-5.0M2057.8,1555.1l5.0,5.0M2057.8,1560.1l5.0,-5.0M2126.0,1555.1l5.0,5.0M2126.0,1560.1l5.0,-5.0M2129.3,1555.1l5.0,5.0M2129.3,1560.1l5.0,-5.0M2132.6,1555.1l5.0,5.0M2132.6,1560.1l5.0,-5.0M2052.2,1544.0l5.0,5.0M2052.2,1549.0l5.0,-5.0M2055.5,1544.0l5.0,5.0M2055.5,1549.0l5.0,-5.0M2058.8,1544.0l5.0,5.0M2058.8,1549.0l5.0,-5.0M2062.1,1544.0l5.0,5.0M2062.1,1549.0l5.0,-5.0M2065.4,1544.0l5.0,5.0M2065.4,1549.0l5.0,-5.0M2127.5,1544.0l5.0,5.0M2127.5,1549.0l5.0,-5.0M2130.8,1544.0l5.0,5.0M2130.8,1549.0l5.0,-5.0M2134.1,1544.0l5.0,5.0M2134.1,1549.0l5.0,-5.0M2059.4,1532.8l5.0,5.0M2059.4,1537.8l5.0,-5.0M2062.7,1532.8l5.0,5.0M2062.7,1537.8l5.0,-5.0M2066.0,1532.8l5.0,5.0M2066.0,1537.8l5.0,-5.0M2069.3,1532.8l5.0,5.0M2069.3,1537.8l5.0,-5.0M2072.6,1532.8l5.0,5.0M2072.6,1537.8l5.0,-5.0M2128.9,1532.8l5.0,5.0M2128.9,1537.8l5.0,-5.0M2132.2,1532.8l5.0,5.0M2132.2,1537.8l5.0,-5.0M2135.5,1532.8l5.0,5.0M2135.5,1537.8l5.0,-5.0M2066.0,1521.7l5.0,5.0M2066.0,1526.7l5.0,-5.0M2069.3,1521.7l5.0,5.0M2069.3,1526.7l5.0,-5.0M2072.6,1521.7l5.0,5.0M2072.6,1526.7l5.0,-5.0M2075.9,1521.7l5.0,5.0M2075.9,1526.7l5.0,-5.0M2079.2,1521.7l5.0,5.0M2079.2,1526.7l5.0,-5.0M2130.0,1521.7l5.0,5.0M2130.0,1526.7l5.0,-5.0M2133.3,1521.7l5.0,5.0M2133.3,1526.7l5.0,-5.0M2136.6,1521.7l5.0,5.0M2136.6,1526.7l5.0,-5.0M2072.7,1510.6l5.0,5.0M2072.7,1515.6l5.0,-5.0M2076.0,1510.6l5.0,5.0M2076.0,1515.6l5.0,-5.0M2079.3,1510.6l5.0,5.0M2079.3,1515.6l5.0,-5.0M2082.6,1510.6l5.0,5.0M2082.6,1515.6l5.0,-5.0M2085.9,1510.6l5.0,5.0M2085.9,1515.6l5.0,-5.0M2130.9,1510.6l5.0,5.0M2130.9,1515.6l5.0,-5.0M2134.2,1510.6l5.0,5.0M2134.2,1515.6l5.0,-5.0M2137.5,1510.6l5.0,5.0M2137.5,1515.6l5.0,-5.0M2078.9,1499.4l5.0,5.0M2078.9,1504.4l5.0,-5.0M2082.2,1499.4l5.0,5.0M2082.2,1504.4l5.0,-5.0M2085.5,1499.4l5.0,5.0M2085.5,1504.4l5.0,-5.0M2088.8,1499.4l5.0,5.0M2088.8,1504.4l5.0,-5.0M2092.1,1499.4l5.0,5.0M2092.1,1504.4l5.0,-5.0M2131.8,1499.4l5.0,5.0M2131.8,1504.4l5.0,-5.0M2135.1,1499.4l5.0,5.0M2135.1,1504.4l5.0,-5.0M2138.4,1499.4l5.0,5.0M2138.4,1504.4l5.0,-5.0M2084.9,1488.3l5.0,5.0M2084.9,1493.3l5.0,-5.0M2088.2,1488.3l5.0,5.0M2088.2,1493.3l5.0,-5.0M2091.5,1488.3l5.0,5.0M2091.5,1493.3l5.0,-5.0M2094.8,1488.3l5.0,5.0M2094.8,1493.3l5.0,-5.0M2098.1,1488.3l5.0,5.0M2098.1,1493.3l5.0,-5.0M2132.6,1488.3l5.0,5.0M2132.6,1493.3l5.0,-5.0M2135.9,1488.3l5.0,5.0M2135.9,1493.3l5.0,-5.0M2139.2,1488.3l5.0,5.0M2139.2,1493.3l5.0,-5.0M2091.5,1477.2l5.0,5.0M2091.5,1482.2l5.0,-5.0M2094.8,1477.2l5.0,5.0M2094.8,1482.2l5.0,-5.0M2098.1,1477.2l5.0,5.0M2098.1,1482.2l5.0,-5.0M2101.4,1477.2l5.0,5.0M2101.4,1482.2l5.0,-5.0M2104.7,1477.2l5.0,5.0M2104.7,1482.2l5.0,-5.0M2133.4,1477.2l5.0,5.0M2133.4,1482.2l5.0,-5.0M2136.7,1477.2l5.0,5.0M2136.7,1482.2l5.0,-5.0M2140.0,1477.2l5.0,5.0M2140.0,1482.2l5.0,-5.0M2097.0,1466.0l5.0,5.0M2097.0,1471.0l5.0,-5.0M2100.3,1466.0l5.0,5.0M2100.3,1471.0l5.0,-5.0M2103.6,1466.0l5.0,5.0M2103.6,1471.0l5.0,-5.0M2106.9,1466.0l5.0,5.0M2106.9,1471.0l5.0,-5.0M2134.0,1466.0l5.0,5.0M2134.0,1471.0l5.0,-5.0M2137.3,1466.0l5.0,5.0M2137.3,1471.0l5.0,-5.0M2140.6,1466.0l5.0,5.0M2140.6,1471.0l5.0,-5.0M2100.7,1454.9l5.0,5.0M2100.7,1459.9l5.0,-5.0M2104.0,1454.9l5.0,5.0M2104.0,1459.9l5.0,-5.0M2107.3,1454.9l5.0,5.0M2107.3,1459.9l5.0,-5.0M2110.6,1454.9l5.0,5.0M2110.6,1459.9l5.0,-5.0M2134.4,1454.9l5.0,5.0M2134.4,1459.9l5.0,-5.0M2137.7,1454.9l5.0,5.0M2137.7,1459.9l5.0,-5.0M2141.0,1454.9l5.0,5.0M2141.0,1459.9l5.0,-5.0M2104.6,1443.8l5.0,5.0M2104.6,1448.8l5.0,-5.0M2107.9,1443.8l5.0,5.0M2107.9,1448.8l5.0,-5.0M2111.2,1443.8l5.0,5.0M2111.2,1448.8l5.0,-5.0M2114.5,1443.8l5.0,5.0M2114.5,1448.8l5.0,-5.0M2134.8,1443.8l5.0,5.0M2134.8,1448.8l5.0,-5.0M2138.1,1443.8l5.0,5.0M2138.1,1448.8l5.0,-5.0M2141.4,1443.8l5.0,5.0M2141.4,1448.8l5.0,-5.0M2108.8,1432.7l5.0,5.0M2108.8,1437.7l5.0,-5.0M2112.1,1432.7l5.0,5.0M2112.1,1437.7l5.0,-5.0M2115.4,1432.7l5.0,5.0M2115.4,1437.7l5.0,-5.0M2118.7,1432.7l5.0,5.0M2118.7,1437.7l5.0,-5.0M2135.1,1432.7l5.0,5.0M2135.1,1437.7l5.0,-5.0M2138.4,1432.7l5.0,5.0M2138.4,1437.7l5.0,-5.0M2141.7,1432.7l5.0,5.0M2141.7,1437.7l5.0,-5.0M2112.6,1421.5l5.0,5.0M2112.6,1426.5l5.0,-5.0M2115.9,1421.5l5.0,5.0M2115.9,1426.5l5.0,-5.0M2119.2,1421.5l5.0,5.0M2119.2,1426.5l5.0,-5.0M2122.5,1421.5l5.0,5.0M2122.5,1426.5l5.0,-5.0M2135.3,1421.5l5.0,5.0M2135.3,1426.5l5.0,-5.0M2138.6,1421.5l5.0,5.0M2138.6,1426.5l5.0,-5.0M2141.9,1421.5l5.0,5.0M2141.9,1426.5l5.0,-5.0M2115.3,1410.4l5.0,5.0M2115.3,1415.4l5.0,-5.0M2118.6,1410.4l5.0,5.0M2118.6,1415.4l5.0,-5.0M2121.9,1410.4l5.0,5.0M2121.9,1415.4l5.0,-5.0M2125.2,1410.4l5.0,5.0M2125.2,1415.4l5.0,-5.0M2135.5,1410.4l5.0,5.0M2135.5,1415.4l5.0,-5.0M2138.8,1410.4l5.0,5.0M2138.8,1415.4l5.0,-5.0M2142.1,1410.4l5.0,5.0M2142.1,1415.4l5.0,-5.0M2118.1,1399.3l5.0,5.0M2118.1,1404.3l5.0,-5.0M2121.4,1399.3l5.0,5.0M2121.4,1404.3l5.0,-5.0M2124.7,1399.3l5.0,5.0M2124.7,1404.3l5.0,-5.0M2128.0,1399.3l5.0,5.0M2128.0,1404.3l5.0,-5.0M2135.6,1399.3l5.0,5.0M2135.6,1404.3l5.0,-5.0M2138.9,1399.3l5.0,5.0M2138.9,1404.3l5.0,-5.0M2142.2,1399.3l5.0,5.0M2142.2,1404.3l5.0,-5.0M2120.4,1388.1l5.0,5.0M2120.4,1393.1l5.0,-5.0M2123.7,1388.1l5.0,5.0M2123.7,1393.1l5.0,-5.0M2127.0,1388.1l5.0,5.0M2127.0,1393.1l5.0,-5.0M2130.3,1388.1l5.0,5.0M2130.3,1393.1l5.0,-5.0M2135.8,1388.1l5.0,5.0M2135.8,1393.1l5.0,-5.0M2139.1,1388.1l5.0,5.0M2139.1,1393.1l5.0,-5.0M2142.4,1388.1l5.0,5.0M2142.4,1393.1l5.0,-5.0M2122.6,1377.0l5.0,5.0M2122.6,1382.0l5.0,-5.0M2125.9,1377.0l5.0,5.0M2125.9,1382.0l5.0,-5.0M2129.2,1377.0l5.0,5.0M2129.2,1382.0l5.0,-5.0M2132.5,1377.0l5.0,5.0M2132.5,1382.0l5.0,-5.0M2136.0,1377.0l5.0,5.0M2136.0,1382.0l5.0,-5.0M2139.3,1377.0l5.0,5.0M2139.3,1382.0l5.0,-5.0M2142.6,1377.0l5.0,5.0M2142.6,1382.0l5.0,-5.0M2124.7,1365.9l5.0,5.0M2124.7,1370.9l5.0,-5.0M2128.0,1365.9l5.0,5.0M2128.0,1370.9l5.0,-5.0M2131.3,1365.9l5.0,5.0M2131.3,1370.9l5.0,-5.0M2136.2,1365.9l5.0,5.0M2136.2,1370.9l5.0,-5.0M2139.5,1365.9l5.0,5.0M2139.5,1370.9l5.0,-5.0M2142.8,1365.9l5.0,5.0M2142.8,1370.9l5.0,-5.0M2126.2,1354.7l5.0,5.0M2126.2,1359.7l5.0,-5.0M2129.5,1354.7l5.0,5.0M2129.5,1359.7l5.0,-5.0M2132.8,1354.7l5.0,5.0M2132.8,1359.7l5.0,-5.0M2136.4,1354.7l5.0,5.0M2136.4,1359.7l5.0,-5.0M2139.7,1354.7l5.0,5.0M2139.7,1359.7l5.0,-5.0M2143.0,1354.7l5.0,5.0M2143.0,1359.7l5.0,-5.0M2127.7,1343.6l5.0,5.0M2127.7,1348.6l5.0,-5.0M2131.0,1343.6l5.0,5.0M2131.0,1348.6l5.0,-5.0M2134.3,1343.6l5.0,5.0M2134.3,1348.6l5.0,-5.0M2136.5,1343.6l5.0,5.0M2136.5,1348.6l5.0,-5.0M2139.8,1343.6l5.0,5.0M2139.8,1348.6l5.0,-5.0M2143.1,1343.6l5.0,5.0M2143.1,1348.6l5.0,-5.0M2129.0,1332.5l5.0,5.0M2129.0,1337.5l5.0,-5.0M2132.3,1332.5l5.0,5.0M2132.3,1337.5l5.0,-5.0M2135.6,1332.5l5.0,5.0M2135.6,1337.5l5.0,-5.0M2136.5,1332.5l5.0,5.0M2136.5,1337.5l5.0,-5.0M2139.8,1332.5l5.0,5.0M2139.8,1337.5l5.0,-5.0M2143.1,1332.5l5.0,5.0M2143.1,1337.5l5.0,-5.0M2130.1,1321.4l5.0,5.0M2130.1,1326.4l5.0,-5.0M2133.4,1321.4l5.0,5.0M2133.4,1326.4l5.0,-5.0M2136.7,1321.4l5.0,5.0M2136.7,1326.4l5.0,-5.0M2136.5,1321.4l5.0,5.0M2136.5,1326.4l5.0,-5.0M2139.8,1321.4l5.0,5.0M2139.8,1326.4l5.0,-5.0M2143.1,1321.4l5.0,5.0M2143.1,1326.4l5.0,-5.0M2131.2,1310.2l5.0,5.0M2131.2,1315.2l5.0,-5.0M2134.5,1310.2l5.0,5.0M2134.5,1315.2l5.0,-5.0M2137.8,1310.2l5.0,5.0M2137.8,1315.2l5.0,-5.0M2136.4,1310.2l5.0,5.0M2136.4,1315.2l5.0,-5.0M2139.7,1310.2l5.0,5.0M2139.7,1315.2l5.0,-5.0M2143.0,1310.2l5.0,5.0M2143.0,1315.2l5.0,-5.0M2132.1,1299.1l5.0,5.0M2132.1,1304.1l5.0,-5.0M2135.4,1299.1l5.0,5.0M2135.4,1304.1l5.0,-5.0M2138.7,1299.1l5.0,5.0M2138.7,1304.1l5.0,-5.0M2136.2,1299.1l5.0,5.0M2136.2,1304.1l5.0,-5.0M2139.5,1299.1l5.0,5.0M2139.5,1304.1l5.0,-5.0M2142.8,1299.1l5.0,5.0M2142.8,1304.1l5.0,-5.0M2132.8,1288.0l5.0,5.0M2132.8,1293.0l5.0,-5.0M2136.1,1288.0l5.0,5.0M2136.1,1293.0l5.0,-5.0M2139.4,1288.0l5.0,5.0M2139.4,1293.0l5.0,-5.0M2136.0,1288.0l5.0,5.0M2136.0,1293.0l5.0,-5.0M2139.3,1288.0l5.0,5.0M2139.3,1293.0l5.0,-5.0M2142.6,1288.0l5.0,5.0M2142.6,1293.0l5.0,-5.0M2133.6,1276.8l5.0,5.0M2133.6,1281.8l5.0,-5.0M2136.9,1276.8l5.0,5.0M2136.9,1281.8l5.0,-5.0M2140.2,1276.8l5.0,5.0M2140.2,1281.8l5.0,-5.0M2135.3,1276.8l5.0,5.0M2135.3,1281.8l5.0,-5.0M2138.6,1276.8l5.0,5.0M2138.6,1281.8l5.0,-5.0M2141.9,1276.8l5.0,5.0M2141.9,1281.8l5.0,-5.0M2134.3,1265.7l5.0,5.0M2134.3,1270.7l5.0,-5.0M2137.6,1265.7l5.0,5.0M2137.6,1270.7l5.0,-5.0M2140.9,1265.7l5.0,5.0M2140.9,1270.7l5.0,-5.0M2134.6,1265.7l5.0,5.0M2134.6,1270.7l5.0,-5.0M2137.9,1265.7l5.0,5.0M2137.9,1270.7l5.0,-5.0M2141.2,1265.7l5.0,5.0M2141.2,1270.7l5.0,-5.0" stroke="#dfa12d" stroke-width="3.2" fill="none"/>
<path d="M963.4,1854.4l3.4,4.3l-3.4,4.3l-3.4,-4.3zM971.2,1854.4l3.4,4.3l-3.4,4.3l-3.4,-4.3zM965.9,1853.4l3.4,4.3l-3.4,4.3l-3.4,-4.3zM958.8,1854.7l3.4,4.3l-3.4,4.3l-3.4,-4.3zM967.8,1854.4l3.4,4.3l-3.4,4.3l-3.4,-4.3zM986.3,1853.8l3.4,4.3l-3.4,4.3l-3.4,-4.3zM1010.9,1853.8l3.4,4.3l-3.4,4.3l-3.4,-4.3zM1031.4,1853.8l3.4,4.3l-3.4,4.3l-3.4,-4.3zM1030.1,1854.6l3.4,4.3l-3.4,4.3l-3.4,-4.3zM972.7,1842.2l3.4,4.3l-3.4,4.3l-3.4,-4.3zM961.4,1842.2l3.4,4.3l-3.4,4.3l-3.4,-4.3zM967.3,1842.8l3.4,4.3l-3.4,4.3l-3.4,-4.3zM991.7,1842.7l3.4,4.3l-3.4,4.3l-3.4,-4.3zM1016.4,1843.4l3.4,4.3l-3.4,4.3l-3.4,-4.3zM1046.2,1843.4l3.4,4.3l-3.4,4.3l-3.4,-4.3zM1053.7,1843.0l3.4,4.3l-3.4,4.3l-3.4,-4.3zM1055.2,1842.4l3.4,4.3l-3.4,4.3l-3.4,-4.3zM1069.7,1842.7l3.4,4.3l-3.4,4.3l-3.4,-4.3zM1094.6,1842.7l3.4,4.3l-3.4,4.3l-3.4,-4.3zM1096.4,1843.5l3.4,4.3l-3.4,4.3l-3.4,-4.3zM1114.3,1842.7l3.4,4.3l-3.4,4.3l-3.4,-4.3zM999.1,1831.6l3.4,4.3l-3.4,4.3l-3.4,-4.3zM996.5,1830.7l3.4,4.3l-3.4,4.3l-3.4,-4.3zM997.1,1831.6l3.4,4.3l-3.4,4.3l-3.4,-4.3zM995.2,1832.2l3.4,4.3l-3.4,4.3l-3.4,-4.3zM996.0,1831.5l3.4,4.3l-3.4,4.3l-3.4,-4.3zM1019.3,1831.5l3.4,4.3l-3.4,4.3l-3.4,-4.3zM1015.6,1832.1l3.4,4.3l-3.4,4.3l-3.4,-4.3zM1041.7,1831.5l3.4,4.3l-3.4,4.3l-3.4,-4.3zM1075.1,1831.0l3.4,4.3l-3.4,4.3l-3.4,-4.3zM1076.7,1831.5l3.4,4.3l-3.4,4.3l-3.4,-4.3zM1075.3,1831.3l3.4,4.3l-3.4,4.3l-3.4,-4.3zM1138.5,1830.8l3.4,4.3l-3.4,4.3l-3.4,-4.3zM1135.9,1831.2l3.4,4.3l-3.4,4.3l-3.4,-4.3zM1134.8,1830.6l3.4,4.3l-3.4,4.3l-3.4,-4.3zM1128.0,1832.5l3.4,4.3l-3.4,4.3l-3.4,-4.3zM1139.6,1831.5l3.4,4.3l-3.4,4.3l-3.4,-4.3zM1156.8,1831.5l3.4,4.3l-3.4,4.3l-3.4,-4.3zM1159.9,1831.4l3.4,4.3l-3.4,4.3l-3.4,-4.3zM1180.3,1831.5l3.4,4.3l-3.4,4.3l-3.4,-4.3zM1045.4,1819.5l3.4,4.3l-3.4,4.3l-3.4,-4.3zM1050.2,1820.8l3.4,4.3l-3.4,4.3l-3.4,-4.3zM1051.8,1821.1l3.4,4.3l-3.4,4.3l-3.4,-4.3zM1075.6,1820.4l3.4,4.3l-3.4,4.3l-3.4,-4.3zM1096.6,1820.4l3.4,4.3l-3.4,4.3l-3.4,-4.3zM1121.2,1820.5l3.4,4.3l-3.4,4.3l-3.4,-4.3zM1208.4,1820.7l3.4,4.3l-3.4,4.3l-3.4,-4.3zM1200.5,1820.3l3.4,4.3l-3.4,4.3l-3.4,-4.3zM1197.3,1821.3l3.4,4.3l-3.4,4.3l-3.4,-4.3zM1226.0,1820.4l3.4,4.3l-3.4,4.3l-3.4,-4.3zM1218.5,1819.9l3.4,4.3l-3.4,4.3l-3.4,-4.3zM1245.4,1820.4l3.4,4.3l-3.4,4.3l-3.4,-4.3zM1099.9,1808.9l3.4,4.3l-3.4,4.3l-3.4,-4.3zM1098.6,1808.7l3.4,4.3l-3.4,4.3l-3.4,-4.3zM1109.0,1809.5l3.4,4.3l-3.4,4.3l-3.4,-4.3zM1127.3,1809.3l3.4,4.3l-3.4,4.3l-3.4,-4.3zM1149.4,1809.3l3.4,4.3l-3.4,4.3l-3.4,-4.3zM1148.2,1809.0l3.4,4.3l-3.4,4.3l-3.4,-4.3zM1174.0,1808.6l3.4,4.3l-3.4,4.3l-3.4,-4.3zM1184.5,1808.3l3.4,4.3l-3.4,4.3l-3.4,-4.3zM1259.2,1808.6l3.4,4.3l-3.4,4.3l-3.4,-4.3zM1259.7,1808.4l3.4,4.3l-3.4,4.3l-3.4,-4.3zM1256.7,1809.0l3.4,4.3l-3.4,4.3l-3.4,-4.3zM1278.0,1809.3l3.4,4.3l-3.4,4.3l-3.4,-4.3zM1300.8,1809.3l3.4,4.3l-3.4,4.3l-3.4,-4.3zM1156.5,1797.6l3.4,4.3l-3.4,4.3l-3.4,-4.3zM1153.7,1797.9l3.4,4.3l-3.4,4.3l-3.4,-4.3zM1156.7,1798.6l3.4,4.3l-3.4,4.3l-3.4,-4.3zM1154.6,1798.0l3.4,4.3l-3.4,4.3l-3.4,-4.3zM1182.6,1798.1l3.4,4.3l-3.4,4.3l-3.4,-4.3zM1176.8,1798.0l3.4,4.3l-3.4,4.3l-3.4,-4.3zM1202.0,1798.1l3.4,4.3l-3.4,4.3l-3.4,-4.3zM1203.9,1797.7l3.4,4.3l-3.4,4.3l-3.4,-4.3zM1307.9,1797.8l3.4,4.3l-3.4,4.3l-3.4,-4.3zM1313.6,1797.4l3.4,4.3l-3.4,4.3l-3.4,-4.3zM1314.7,1797.3l3.4,4.3l-3.4,4.3l-3.4,-4.3zM1313.5,1798.5l3.4,4.3l-3.4,4.3l-3.4,-4.3zM1328.8,1798.1l3.4,4.3l-3.4,4.3l-3.4,-4.3zM1327.4,1797.7l3.4,4.3l-3.4,4.3l-3.4,-4.3zM1350.8,1798.1l3.4,4.3l-3.4,4.3l-3.4,-4.3zM1357.9,1799.1l3.4,4.3l-3.4,4.3l-3.4,-4.3zM1211.2,1786.3l3.4,4.3l-3.4,4.3l-3.4,-4.3zM1217.1,1788.0l3.4,4.3l-3.4,4.3l-3.4,-4.3zM1207.4,1787.3l3.4,4.3l-3.4,4.3l-3.4,-4.3zM1211.6,1787.0l3.4,4.3l-3.4,4.3l-3.4,-4.3zM1234.5,1787.0l3.4,4.3l-3.4,4.3l-3.4,-4.3zM1237.9,1787.9l3.4,4.3l-3.4,4.3l-3.4,-4.3zM1255.6,1787.0l3.4,4.3l-3.4,4.3l-3.4,-4.3zM1250.9,1786.8l3.4,4.3l-3.4,4.3l-3.4,-4.3zM1278.0,1786.4l3.4,4.3l-3.4,4.3l-3.4,-4.3zM1363.9,1786.4l3.4,4.3l-3.4,4.3l-3.4,-4.3zM1355.1,1786.2l3.4,4.3l-3.4,4.3l-3.4,-4.3zM1362.5,1787.0l3.4,4.3l-3.4,4.3l-3.4,-4.3zM1382.1,1787.0l3.4,4.3l-3.4,4.3l-3.4,-4.3zM1384.3,1787.4l3.4,4.3l-3.4,4.3l-3.4,-4.3zM1268.3,1775.9l3.4,4.3l-3.4,4.3l-3.4,-4.3zM1270.4,1776.7l3.4,4.3l-3.4,4.3l-3.4,-4.3zM1265.9,1775.6l3.4,4.3l-3.4,4.3l-3.4,-4.3zM1286.8,1775.9l3.4,4.3l-3.4,4.3l-3.4,-4.3zM1311.4,1775.9l3.4,4.3l-3.4,4.3l-3.4,-4.3zM1308.6,1776.4l3.4,4.3l-3.4,4.3l-3.4,-4.3zM1327.9,1775.3l3.4,4.3l-3.4,4.3l-3.4,-4.3zM1341.5,1775.6l3.4,4.3l-3.4,4.3l-3.4,-4.3zM1325.5,1775.6l3.4,4.3l-3.4,4.3l-3.4,-4.3zM1399.4,1776.7l3.4,4.3l-3.4,4.3l-3.4,-4.3zM1408.0,1775.0l3.4,4.3l-3.4,4.3l-3.4,-4.3zM1399.5,1775.4l3.4,4.3l-3.4,4.3l-3.4,-4.3zM1424.8,1775.9l3.4,4.3l-3.4,4.3l-3.4,-4.3zM1325.2,1764.7l3.4,4.3l-3.4,4.3l-3.4,-4.3zM1319.0,1764.8l3.4,4.3l-3.4,4.3l-3.4,-4.3zM1319.4,1763.8l3.4,4.3l-3.4,4.3l-3.4,-4.3zM1342.7,1764.8l3.4,4.3l-3.4,4.3l-3.4,-4.3zM1337.1,1764.0l3.4,4.3l-3.4,4.3l-3.4,-4.3zM1361.9,1764.8l3.4,4.3l-3.4,4.3l-3.4,-4.3zM1385.8,1765.2l3.4,4.3l-3.4,4.3l-3.4,-4.3zM1425.6,1765.0l3.4,4.3l-3.4,4.3l-3.4,-4.3zM1433.4,1764.8l3.4,4.3l-3.4,4.3l-3.4,-4.3zM1435.1,1764.0l3.4,4.3l-3.4,4.3l-3.4,-4.3zM1437.5,1765.2l3.4,4.3l-3.4,4.3l-3.4,-4.3zM1452.5,1764.8l3.4,4.3l-3.4,4.3l-3.4,-4.3zM1454.2,1764.8l3.4,4.3l-3.4,4.3l-3.4,-4.3zM1475.4,1764.8l3.4,4.3l-3.4,4.3l-3.4,-4.3zM1475.2,1764.0l3.4,4.3l-3.4,4.3l-3.4,-4.3zM1367.4,1754.3l3.4,4.3l-3.4,4.3l-3.4,-4.3zM1378.2,1753.4l3.4,4.3l-3.4,4.3l-3.4,-4.3zM1371.0,1754.3l3.4,4.3l-3.4,4.3l-3.4,-4.3zM1372.4,1753.4l3.4,4.3l-3.4,4.3l-3.4,-4.3zM1378.3,1754.2l3.4,4.3l-3.4,4.3l-3.4,-4.3zM1393.4,1753.6l3.4,4.3l-3.4,4.3l-3.4,-4.3zM1392.1,1753.5l3.4,4.3l-3.4,4.3l-3.4,-4.3zM1418.0,1753.6l3.4,4.3l-3.4,4.3l-3.4,-4.3zM1490.5,1752.7l3.4,4.3l-3.4,4.3l-3.4,-4.3zM1485.8,1754.5l3.4,4.3l-3.4,4.3l-3.4,-4.3zM1491.7,1753.1l3.4,4.3l-3.4,4.3l-3.4,-4.3zM1484.5,1753.9l3.4,4.3l-3.4,4.3l-3.4,-4.3zM1483.7,1753.7l3.4,4.3l-3.4,4.3l-3.4,-4.3zM1505.9,1753.6l3.4,4.3l-3.4,4.3l-3.4,-4.3zM1507.6,1752.7l3.4,4.3l-3.4,4.3l-3.4,-4.3zM1528.1,1753.6l3.4,4.3l-3.4,4.3l-3.4,-4.3zM1428.6,1742.7l3.4,4.3l-3.4,4.3l-3.4,-4.3zM1429.4,1742.7l3.4,4.3l-3.4,4.3l-3.4,-4.3zM1425.3,1743.1l3.4,4.3l-3.4,4.3l-3.4,-4.3zM1443.6,1742.5l3.4,4.3l-3.4,4.3l-3.4,-4.3zM1441.0,1741.5l3.4,4.3l-3.4,4.3l-3.4,-4.3zM1476.1,1742.1l3.4,4.3l-3.4,4.3l-3.4,-4.3zM1533.6,1742.7l3.4,4.3l-3.4,4.3l-3.4,-4.3zM1545.3,1742.5l3.4,4.3l-3.4,4.3l-3.4,-4.3zM1535.6,1742.4l3.4,4.3l-3.4,4.3l-3.4,-4.3zM1561.0,1742.5l3.4,4.3l-3.4,4.3l-3.4,-4.3zM1556.4,1741.8l3.4,4.3l-3.4,4.3l-3.4,-4.3zM1582.0,1742.5l3.4,4.3l-3.4,4.3l-3.4,-4.3zM1580.3,1742.0l3.4,4.3l-3.4,4.3l-3.4,-4.3zM1471.9,1730.8l3.4,4.3l-3.4,4.3l-3.4,-4.3zM1472.8,1731.3l3.4,4.3l-3.4,4.3l-3.4,-4.3zM1470.5,1731.6l3.4,4.3l-3.4,4.3l-3.4,-4.3zM1491.7,1731.4l3.4,4.3l-3.4,4.3l-3.4,-4.3zM1488.7,1730.8l3.4,4.3l-3.4,4.3l-3.4,-4.3zM1598.7,1731.2l3.4,4.3l-3.4,4.3l-3.4,-4.3zM1598.1,1730.7l3.4,4.3l-3.4,4.3l-3.4,-4.3zM1598.5,1731.0l3.4,4.3l-3.4,4.3l-3.4,-4.3zM1589.7,1730.9l3.4,4.3l-3.4,4.3l-3.4,-4.3zM1597.4,1730.8l3.4,4.3l-3.4,4.3l-3.4,-4.3zM1612.4,1731.4l3.4,4.3l-3.4,4.3l-3.4,-4.3zM1614.8,1731.6l3.4,4.3l-3.4,4.3l-3.4,-4.3zM1635.5,1731.4l3.4,4.3l-3.4,4.3l-3.4,-4.3zM1519.5,1719.5l3.4,4.3l-3.4,4.3l-3.4,-4.3zM1512.3,1721.2l3.4,4.3l-3.4,4.3l-3.4,-4.3zM1519.5,1719.5l3.4,4.3l-3.4,4.3l-3.4,-4.3zM1513.9,1719.9l3.4,4.3l-3.4,4.3l-3.4,-4.3zM1538.9,1720.2l3.4,4.3l-3.4,4.3l-3.4,-4.3zM1649.9,1720.3l3.4,4.3l-3.4,4.3l-3.4,-4.3zM1648.8,1720.7l3.4,4.3l-3.4,4.3l-3.4,-4.3zM1649.1,1720.2l3.4,4.3l-3.4,4.3l-3.4,-4.3zM1649.4,1720.6l3.4,4.3l-3.4,4.3l-3.4,-4.3zM1669.1,1720.2l3.4,4.3l-3.4,4.3l-3.4,-4.3zM1671.9,1719.2l3.4,4.3l-3.4,4.3l-3.4,-4.3zM1690.5,1720.2l3.4,4.3l-3.4,4.3l-3.4,-4.3zM1561.3,1709.7l3.4,4.3l-3.4,4.3l-3.4,-4.3zM1567.7,1709.3l3.4,4.3l-3.4,4.3l-3.4,-4.3zM1560.8,1709.0l3.4,4.3l-3.4,4.3l-3.4,-4.3zM1584.3,1709.1l3.4,4.3l-3.4,4.3l-3.4,-4.3zM1696.7,1709.2l3.4,4.3l-3.4,4.3l-3.4,-4.3zM1700.0,1709.4l3.4,4.3l-3.4,4.3l-3.4,-4.3zM1691.8,1709.6l3.4,4.3l-3.4,4.3l-3.4,-4.3zM1705.6,1708.9l3.4,4.3l-3.4,4.3l-3.4,-4.3zM1719.9,1709.1l3.4,4.3l-3.4,4.3l-3.4,-4.3zM1743.9,1709.1l3.4,4.3l-3.4,4.3l-3.4,-4.3zM1741.2,1708.6l3.4,4.3l-3.4,4.3l-3.4,-4.3zM1615.4,1698.8l3.4,4.3l-3.4,4.3l-3.4,-4.3zM1615.2,1697.0l3.4,4.3l-3.4,4.3l-3.4,-4.3zM1605.4,1698.8l3.4,4.3l-3.4,4.3l-3.4,-4.3zM1630.0,1698.0l3.4,4.3l-3.4,4.3l-3.4,-4.3zM1752.5,1699.0l3.4,4.3l-3.4,4.3l-3.4,-4.3zM1752.2,1698.0l3.4,4.3l-3.4,4.3l-3.4,-4.3zM1754.6,1697.8l3.4,4.3l-3.4,4.3l-3.4,-4.3zM1750.0,1698.2l3.4,4.3l-3.4,4.3l-3.4,-4.3zM1773.4,1698.0l3.4,4.3l-3.4,4.3l-3.4,-4.3zM1796.7,1698.0l3.4,4.3l-3.4,4.3l-3.4,-4.3zM1661.6,1686.8l3.4,4.3l-3.4,4.3l-3.4,-4.3zM1654.3,1687.1l3.4,4.3l-3.4,4.3l-3.4,-4.3zM1662.1,1686.5l3.4,4.3l-3.4,4.3l-3.4,-4.3zM1677.3,1686.8l3.4,4.3l-3.4,4.3l-3.4,-4.3zM1803.3,1686.6l3.4,4.3l-3.4,4.3l-3.4,-4.3zM1799.3,1686.5l3.4,4.3l-3.4,4.3l-3.4,-4.3zM1800.7,1687.2l3.4,4.3l-3.4,4.3l-3.4,-4.3zM1826.5,1686.8l3.4,4.3l-3.4,4.3l-3.4,-4.3zM1832.5,1686.9l3.4,4.3l-3.4,4.3l-3.4,-4.3zM1851.2,1686.8l3.4,4.3l-3.4,4.3l-3.4,-4.3zM1695.3,1675.8l3.4,4.3l-3.4,4.3l-3.4,-4.3zM1696.0,1675.9l3.4,4.3l-3.4,4.3l-3.4,-4.3zM1703.3,1676.2l3.4,4.3l-3.4,4.3l-3.4,-4.3zM1724.2,1675.7l3.4,4.3l-3.4,4.3l-3.4,-4.3zM1717.5,1676.1l3.4,4.3l-3.4,4.3l-3.4,-4.3zM1863.9,1675.5l3.4,4.3l-3.4,4.3l-3.4,-4.3zM1852.5,1674.7l3.4,4.3l-3.4,4.3l-3.4,-4.3zM1851.5,1675.1l3.4,4.3l-3.4,4.3l-3.4,-4.3zM1881.2,1675.7l3.4,4.3l-3.4,4.3l-3.4,-4.3zM1903.6,1675.7l3.4,4.3l-3.4,4.3l-3.4,-4.3zM1746.6,1663.8l3.4,4.3l-3.4,4.3l-3.4,-4.3zM1743.0,1665.1l3.4,4.3l-3.4,4.3l-3.4,-4.3zM1742.3,1663.8l3.4,4.3l-3.4,4.3l-3.4,-4.3zM1768.5,1664.6l3.4,4.3l-3.4,4.3l-3.4,-4.3zM1913.4,1665.2l3.4,4.3l-3.4,4.3l-3.4,-4.3zM1905.7,1663.6l3.4,4.3l-3.4,4.3l-3.4,-4.3zM1915.6,1664.2l3.4,4.3l-3.4,4.3l-3.4,-4.3zM1914.8,1664.3l3.4,4.3l-3.4,4.3l-3.4,-4.3zM1907.2,1664.1l3.4,4.3l-3.4,4.3l-3.4,-4.3zM1932.2,1664.6l3.4,4.3l-3.4,4.3l-3.4,-4.3zM1787.4,1652.9l3.4,4.3l-3.4,4.3l-3.4,-4.3zM1792.7,1654.0l3.4,4.3l-3.4,4.3l-3.4,-4.3zM1787.7,1652.6l3.4,4.3l-3.4,4.3l-3.4,-4.3zM1790.5,1652.9l3.4,4.3l-3.4,4.3l-3.4,-4.3zM1789.4,1653.6l3.4,4.3l-3.4,4.3l-3.4,-4.3zM1814.8,1653.5l3.4,4.3l-3.4,4.3l-3.4,-4.3zM1820.5,1653.4l3.4,4.3l-3.4,4.3l-3.4,-4.3zM1947.0,1654.4l3.4,4.3l-3.4,4.3l-3.4,-4.3zM1945.5,1654.4l3.4,4.3l-3.4,4.3l-3.4,-4.3zM1942.0,1653.2l3.4,4.3l-3.4,4.3l-3.4,-4.3zM1948.7,1652.9l3.4,4.3l-3.4,4.3l-3.4,-4.3zM1942.9,1654.2l3.4,4.3l-3.4,4.3l-3.4,-4.3zM1967.5,1653.5l3.4,4.3l-3.4,4.3l-3.4,-4.3zM1834.7,1641.7l3.4,4.3l-3.4,4.3l-3.4,-4.3zM1838.8,1641.3l3.4,4.3l-3.4,4.3l-3.4,-4.3zM1845.8,1642.1l3.4,4.3l-3.4,4.3l-3.4,-4.3zM1861.9,1642.3l3.4,4.3l-3.4,4.3l-3.4,-4.3zM1866.9,1642.0l3.4,4.3l-3.4,4.3l-3.4,-4.3zM1998.5,1642.2l3.4,4.3l-3.4,4.3l-3.4,-4.3zM1997.8,1642.4l3.4,4.3l-3.4,4.3l-3.4,-4.3zM1990.5,1642.3l3.4,4.3l-3.4,4.3l-3.4,-4.3zM2013.4,1642.3l3.4,4.3l-3.4,4.3l-3.4,-4.3zM2011.4,1641.4l3.4,4.3l-3.4,4.3l-3.4,-4.3zM1883.2,1630.5l3.4,4.3l-3.4,4.3l-3.4,-4.3zM1882.5,1631.3l3.4,4.3l-3.4,4.3l-3.4,-4.3zM1890.8,1631.3l3.4,4.3l-3.4,4.3l-3.4,-4.3zM1908.7,1631.2l3.4,4.3l-3.4,4.3l-3.4,-4.3zM1929.7,1631.2l3.4,4.3l-3.4,4.3l-3.4,-4.3zM1927.4,1631.0l3.4,4.3l-3.4,4.3l-3.4,-4.3zM2026.4,1631.1l3.4,4.3l-3.4,4.3l-3.4,-4.3zM2025.1,1631.9l3.4,4.3l-3.4,4.3l-3.4,-4.3zM2031.7,1632.1l3.4,4.3l-3.4,4.3l-3.4,-4.3zM2053.2,1631.2l3.4,4.3l-3.4,4.3l-3.4,-4.3zM1942.7,1621.2l3.4,4.3l-3.4,4.3l-3.4,-4.3zM1951.3,1619.8l3.4,4.3l-3.4,4.3l-3.4,-4.3zM1959.5,1619.2l3.4,4.3l-3.4,4.3l-3.4,-4.3zM1968.6,1620.5l3.4,4.3l-3.4,4.3l-3.4,-4.3zM1974.9,1620.9l3.4,4.3l-3.4,4.3l-3.4,-4.3zM2059.2,1620.7l3.4,4.3l-3.4,4.3l-3.4,-4.3zM2065.1,1620.6l3.4,4.3l-3.4,4.3l-3.4,-4.3zM2073.5,1618.9l3.4,4.3l-3.4,4.3l-3.4,-4.3zM2083.3,1620.5l3.4,4.3l-3.4,4.3l-3.4,-4.3zM2091.5,1619.4l3.4,4.3l-3.4,4.3l-3.4,-4.3zM1969.2,1609.9l3.4,4.3l-3.4,4.3l-3.4,-4.3zM1975.1,1609.9l3.4,4.3l-3.4,4.3l-3.4,-4.3zM1983.6,1609.6l3.4,4.3l-3.4,4.3l-3.4,-4.3zM1988.0,1609.5l3.4,4.3l-3.4,4.3l-3.4,-4.3zM2083.5,1608.4l3.4,4.3l-3.4,4.3l-3.4,-4.3zM2093.0,1608.7l3.4,4.3l-3.4,4.3l-3.4,-4.3zM2098.9,1609.8l3.4,4.3l-3.4,4.3l-3.4,-4.3zM2106.5,1609.2l3.4,4.3l-3.4,4.3l-3.4,-4.3zM1983.3,1598.7l3.4,4.3l-3.4,4.3l-3.4,-4.3zM1990.7,1597.0l3.4,4.3l-3.4,4.3l-3.4,-4.3zM1995.5,1598.5l3.4,4.3l-3.4,4.3l-3.4,-4.3zM2003.0,1598.8l3.4,4.3l-3.4,4.3l-3.4,-4.3zM2099.2,1598.3l3.4,4.3l-3.4,4.3l-3.4,-4.3zM2105.4,1599.0l3.4,4.3l-3.4,4.3l-3.4,-4.3zM2110.0,1598.8l3.4,4.3l-3.4,4.3l-3.4,-4.3zM2114.0,1597.3l3.4,4.3l-3.4,4.3l-3.4,-4.3zM1995.7,1586.9l3.4,4.3l-3.4,4.3l-3.4,-4.3zM2001.4,1587.1l3.4,4.3l-3.4,4.3l-3.4,-4.3zM2007.7,1586.9l3.4,4.3l-3.4,4.3l-3.4,-4.3zM2013.6,1587.3l3.4,4.3l-3.4,4.3l-3.4,-4.3zM2108.2,1587.2l3.4,4.3l-3.4,4.3l-3.4,-4.3zM2115.4,1587.0l3.4,4.3l-3.4,4.3l-3.4,-4.3zM2122.6,1586.8l3.4,4.3l-3.4,4.3l-3.4,-4.3zM2007.0,1575.5l3.4,4.3l-3.4,4.3l-3.4,-4.3zM2013.3,1576.6l3.4,4.3l-3.4,4.3l-3.4,-4.3zM2019.2,1575.7l3.4,4.3l-3.4,4.3l-3.4,-4.3zM2025.5,1574.6l3.4,4.3l-3.4,4.3l-3.4,-4.3zM2116.0,1575.9l3.4,4.3l-3.4,4.3l-3.4,-4.3zM2121.7,1576.4l3.4,4.3l-3.4,4.3l-3.4,-4.3zM2126.0,1576.0l3.4,4.3l-3.4,4.3l-3.4,-4.3zM2019.6,1564.8l3.4,4.3l-3.4,4.3l-3.4,-4.3zM2021.7,1564.0l3.4,4.3l-3.4,4.3l-3.4,-4.3zM2028.8,1564.0l3.4,4.3l-3.4,4.3l-3.4,-4.3zM2034.1,1564.2l3.4,4.3l-3.4,4.3l-3.4,-4.3zM2120.4,1565.6l3.4,4.3l-3.4,4.3l-3.4,-4.3zM2124.7,1563.7l3.4,4.3l-3.4,4.3l-3.4,-4.3zM2129.2,1564.0l3.4,4.3l-3.4,4.3l-3.4,-4.3zM2028.2,1553.1l3.4,4.3l-3.4,4.3l-3.4,-4.3zM2031.1,1553.3l3.4,4.3l-3.4,4.3l-3.4,-4.3zM2036.8,1554.1l3.4,4.3l-3.4,4.3l-3.4,-4.3zM2041.4,1553.3l3.4,4.3l-3.4,4.3l-3.4,-4.3zM2123.6,1552.6l3.4,4.3l-3.4,4.3l-3.4,-4.3zM2127.7,1554.1l3.4,4.3l-3.4,4.3l-3.4,-4.3zM2132.1,1553.3l3.4,4.3l-3.4,4.3l-3.4,-4.3zM2034.1,1543.2l3.4,4.3l-3.4,4.3l-3.4,-4.3zM2042.8,1542.3l3.4,4.3l-3.4,4.3l-3.4,-4.3zM2047.6,1541.3l3.4,4.3l-3.4,4.3l-3.4,-4.3zM2126.1,1541.5l3.4,4.3l-3.4,4.3l-3.4,-4.3zM2128.7,1543.3l3.4,4.3l-3.4,4.3l-3.4,-4.3zM2132.5,1541.8l3.4,4.3l-3.4,4.3l-3.4,-4.3zM2041.4,1531.3l3.4,4.3l-3.4,4.3l-3.4,-4.3zM2048.2,1531.5l3.4,4.3l-3.4,4.3l-3.4,-4.3zM2056.0,1531.0l3.4,4.3l-3.4,4.3l-3.4,-4.3zM2128.1,1529.8l3.4,4.3l-3.4,4.3l-3.4,-4.3zM2132.0,1530.1l3.4,4.3l-3.4,4.3l-3.4,-4.3zM2135.7,1531.5l3.4,4.3l-3.4,4.3l-3.4,-4.3zM2048.9,1520.4l3.4,4.3l-3.4,4.3l-3.4,-4.3zM2056.6,1519.3l3.4,4.3l-3.4,4.3l-3.4,-4.3zM2063.1,1519.0l3.4,4.3l-3.4,4.3l-3.4,-4.3zM2129.1,1521.0l3.4,4.3l-3.4,4.3l-3.4,-4.3zM2133.7,1519.1l3.4,4.3l-3.4,4.3l-3.4,-4.3zM2138.4,1520.7l3.4,4.3l-3.4,4.3l-3.4,-4.3zM2056.4,1508.1l3.4,4.3l-3.4,4.3l-3.4,-4.3zM2063.5,1507.6l3.4,4.3l-3.4,4.3l-3.4,-4.3zM2069.1,1507.7l3.4,4.3l-3.4,4.3l-3.4,-4.3zM2132.2,1508.3l3.4,4.3l-3.4,4.3l-3.4,-4.3zM2133.7,1508.3l3.4,4.3l-3.4,4.3l-3.4,-4.3zM2140.0,1507.9l3.4,4.3l-3.4,4.3l-3.4,-4.3zM2062.9,1497.8l3.4,4.3l-3.4,4.3l-3.4,-4.3zM2068.5,1497.8l3.4,4.3l-3.4,4.3l-3.4,-4.3zM2073.8,1497.6l3.4,4.3l-3.4,4.3l-3.4,-4.3zM2134.1,1497.6l3.4,4.3l-3.4,4.3l-3.4,-4.3zM2136.9,1497.2l3.4,4.3l-3.4,4.3l-3.4,-4.3zM2140.5,1497.1l3.4,4.3l-3.4,4.3l-3.4,-4.3zM2069.6,1487.6l3.4,4.3l-3.4,4.3l-3.4,-4.3zM2075.1,1487.2l3.4,4.3l-3.4,4.3l-3.4,-4.3zM2080.5,1486.2l3.4,4.3l-3.4,4.3l-3.4,-4.3zM2132.5,1486.0l3.4,4.3l-3.4,4.3l-3.4,-4.3zM2137.6,1487.1l3.4,4.3l-3.4,4.3l-3.4,-4.3zM2141.5,1486.9l3.4,4.3l-3.4,4.3l-3.4,-4.3zM2073.8,1476.0l3.4,4.3l-3.4,4.3l-3.4,-4.3zM2079.6,1475.1l3.4,4.3l-3.4,4.3l-3.4,-4.3zM2086.0,1475.1l3.4,4.3l-3.4,4.3l-3.4,-4.3zM2136.2,1475.4l3.4,4.3l-3.4,4.3l-3.4,-4.3zM2139.6,1475.8l3.4,4.3l-3.4,4.3l-3.4,-4.3zM2140.7,1475.9l3.4,4.3l-3.4,4.3l-3.4,-4.3zM2080.5,1464.5l3.4,4.3l-3.4,4.3l-3.4,-4.3zM2086.7,1464.6l3.4,4.3l-3.4,4.3l-3.4,-4.3zM2092.6,1463.6l3.4,4.3l-3.4,4.3l-3.4,-4.3zM2134.8,1465.2l3.4,4.3l-3.4,4.3l-3.4,-4.3zM2140.3,1463.7l3.4,4.3l-3.4,4.3l-3.4,-4.3zM2141.4,1463.3l3.4,4.3l-3.4,4.3l-3.4,-4.3zM2087.9,1454.1l3.4,4.3l-3.4,4.3l-3.4,-4.3zM2094.3,1452.9l3.4,4.3l-3.4,4.3l-3.4,-4.3zM2097.3,1452.4l3.4,4.3l-3.4,4.3l-3.4,-4.3zM2136.5,1453.7l3.4,4.3l-3.4,4.3l-3.4,-4.3zM2141.7,1453.4l3.4,4.3l-3.4,4.3l-3.4,-4.3zM2144.0,1452.3l3.4,4.3l-3.4,4.3l-3.4,-4.3zM2091.8,1441.1l3.4,4.3l-3.4,4.3l-3.4,-4.3zM2098.6,1441.7l3.4,4.3l-3.4,4.3l-3.4,-4.3zM2105.2,1442.8l3.4,4.3l-3.4,4.3l-3.4,-4.3zM2137.6,1441.3l3.4,4.3l-3.4,4.3l-3.4,-4.3zM2140.6,1440.9l3.4,4.3l-3.4,4.3l-3.4,-4.3zM2144.7,1442.8l3.4,4.3l-3.4,4.3l-3.4,-4.3zM2097.8,1430.0l3.4,4.3l-3.4,4.3l-3.4,-4.3zM2101.5,1429.8l3.4,4.3l-3.4,4.3l-3.4,-4.3zM2108.5,1431.8l3.4,4.3l-3.4,4.3l-3.4,-4.3zM2137.0,1429.7l3.4,4.3l-3.4,4.3l-3.4,-4.3zM2143.0,1430.1l3.4,4.3l-3.4,4.3l-3.4,-4.3zM2145.6,1430.6l3.4,4.3l-3.4,4.3l-3.4,-4.3zM2100.4,1420.5l3.4,4.3l-3.4,4.3l-3.4,-4.3zM2107.4,1419.9l3.4,4.3l-3.4,4.3l-3.4,-4.3zM2111.8,1419.8l3.4,4.3l-3.4,4.3l-3.4,-4.3zM2138.9,1419.6l3.4,4.3l-3.4,4.3l-3.4,-4.3zM2142.3,1420.0l3.4,4.3l-3.4,4.3l-3.4,-4.3zM2144.4,1419.5l3.4,4.3l-3.4,4.3l-3.4,-4.3zM2106.2,1407.6l3.4,4.3l-3.4,4.3l-3.4,-4.3zM2111.6,1409.1l3.4,4.3l-3.4,4.3l-3.4,-4.3zM2114.9,1409.0l3.4,4.3l-3.4,4.3l-3.4,-4.3zM2139.6,1408.4l3.4,4.3l-3.4,4.3l-3.4,-4.3zM2142.3,1409.0l3.4,4.3l-3.4,4.3l-3.4,-4.3zM2144.8,1409.5l3.4,4.3l-3.4,4.3l-3.4,-4.3zM2109.5,1397.8l3.4,4.3l-3.4,4.3l-3.4,-4.3zM2115.2,1396.8l3.4,4.3l-3.4,4.3l-3.4,-4.3zM2119.6,1397.9l3.4,4.3l-3.4,4.3l-3.4,-4.3zM2138.8,1397.7l3.4,4.3l-3.4,4.3l-3.4,-4.3zM2143.3,1398.5l3.4,4.3l-3.4,4.3l-3.4,-4.3zM2145.9,1396.8l3.4,4.3l-3.4,4.3l-3.4,-4.3zM2112.7,1385.8l3.4,4.3l-3.4,4.3l-3.4,-4.3zM2116.7,1387.5l3.4,4.3l-3.4,4.3l-3.4,-4.3zM2121.2,1386.9l3.4,4.3l-3.4,4.3l-3.4,-4.3zM2139.5,1387.1l3.4,4.3l-3.4,4.3l-3.4,-4.3zM2144.0,1385.6l3.4,4.3l-3.4,4.3l-3.4,-4.3zM2147.3,1386.8l3.4,4.3l-3.4,4.3l-3.4,-4.3zM2115.3,1375.1l3.4,4.3l-3.4,4.3l-3.4,-4.3zM2120.8,1375.7l3.4,4.3l-3.4,4.3l-3.4,-4.3zM2126.0,1376.2l3.4,4.3l-3.4,4.3l-3.4,-4.3zM2141.0,1376.0l3.4,4.3l-3.4,4.3l-3.4,-4.3zM2144.5,1375.9l3.4,4.3l-3.4,4.3l-3.4,-4.3zM2146.0,1375.2l3.4,4.3l-3.4,4.3l-3.4,-4.3zM2119.3,1364.9l3.4,4.3l-3.4,4.3l-3.4,-4.3zM2125.0,1364.4l3.4,4.3l-3.4,4.3l-3.4,-4.3zM2129.4,1364.1l3.4,4.3l-3.4,4.3l-3.4,-4.3zM2141.0,1364.5l3.4,4.3l-3.4,4.3l-3.4,-4.3zM2144.4,1365.2l3.4,4.3l-3.4,4.3l-3.4,-4.3zM2146.5,1364.0l3.4,4.3l-3.4,4.3l-3.4,-4.3zM2120.8,1352.6l3.4,4.3l-3.4,4.3l-3.4,-4.3zM2126.6,1352.7l3.4,4.3l-3.4,4.3l-3.4,-4.3zM2129.2,1351.8l3.4,4.3l-3.4,4.3l-3.4,-4.3zM2142.0,1354.0l3.4,4.3l-3.4,4.3l-3.4,-4.3zM2144.4,1352.0l3.4,4.3l-3.4,4.3l-3.4,-4.3zM2146.6,1353.9l3.4,4.3l-3.4,4.3l-3.4,-4.3zM2123.3,1343.0l3.4,4.3l-3.4,4.3l-3.4,-4.3zM2127.9,1340.9l3.4,4.3l-3.4,4.3l-3.4,-4.3zM2133.6,1341.5l3.4,4.3l-3.4,4.3l-3.4,-4.3zM2141.3,1342.6l3.4,4.3l-3.4,4.3l-3.4,-4.3zM2145.7,1342.4l3.4,4.3l-3.4,4.3l-3.4,-4.3zM2146.5,1341.2l3.4,4.3l-3.4,4.3l-3.4,-4.3zM2126.2,1330.7l3.4,4.3l-3.4,4.3l-3.4,-4.3zM2131.1,1330.3l3.4,4.3l-3.4,4.3l-3.4,-4.3zM2135.1,1331.4l3.4,4.3l-3.4,4.3l-3.4,-4.3zM2141.5,1330.3l3.4,4.3l-3.4,4.3l-3.4,-4.3zM2144.5,1330.9l3.4,4.3l-3.4,4.3l-3.4,-4.3zM2146.7,1331.7l3.4,4.3l-3.4,4.3l-3.4,-4.3zM2128.4,1319.2l3.4,4.3l-3.4,4.3l-3.4,-4.3zM2133.8,1318.4l3.4,4.3l-3.4,4.3l-3.4,-4.3zM2138.8,1319.4l3.4,4.3l-3.4,4.3l-3.4,-4.3zM2143.0,1319.5l3.4,4.3l-3.4,4.3l-3.4,-4.3zM2143.8,1319.0l3.4,4.3l-3.4,4.3l-3.4,-4.3zM2147.0,1320.6l3.4,4.3l-3.4,4.3l-3.4,-4.3zM2132.4,1308.8l3.4,4.3l-3.4,4.3l-3.4,-4.3zM2136.4,1308.6l3.4,4.3l-3.4,4.3l-3.4,-4.3zM2138.8,1309.6l3.4,4.3l-3.4,4.3l-3.4,-4.3zM2142.8,1307.9l3.4,4.3l-3.4,4.3l-3.4,-4.3zM2144.8,1307.3l3.4,4.3l-3.4,4.3l-3.4,-4.3zM2149.3,1308.4l3.4,4.3l-3.4,4.3l-3.4,-4.3zM2133.5,1296.2l3.4,4.3l-3.4,4.3l-3.4,-4.3zM2138.7,1296.3l3.4,4.3l-3.4,4.3l-3.4,-4.3zM2142.2,1297.6l3.4,4.3l-3.4,4.3l-3.4,-4.3zM2142.1,1298.1l3.4,4.3l-3.4,4.3l-3.4,-4.3zM2146.1,1297.8l3.4,4.3l-3.4,4.3l-3.4,-4.3zM2147.4,1296.6l3.4,4.3l-3.4,4.3l-3.4,-4.3zM2137.3,1286.2l3.4,4.3l-3.4,4.3l-3.4,-4.3zM2139.5,1286.2l3.4,4.3l-3.4,4.3l-3.4,-4.3zM2143.3,1285.3l3.4,4.3l-3.4,4.3l-3.4,-4.3zM2142.0,1285.5l3.4,4.3l-3.4,4.3l-3.4,-4.3zM2145.3,1286.7l3.4,4.3l-3.4,4.3l-3.4,-4.3zM2146.6,1286.1l3.4,4.3l-3.4,4.3l-3.4,-4.3zM2139.2,1274.6l3.4,4.3l-3.4,4.3l-3.4,-4.3zM2141.2,1275.0l3.4,4.3l-3.4,4.3l-3.4,-4.3zM2144.7,1274.4l3.4,4.3l-3.4,4.3l-3.4,-4.3zM2142.2,1275.3l3.4,4.3l-3.4,4.3l-3.4,-4.3zM2144.2,1275.6l3.4,4.3l-3.4,4.3l-3.4,-4.3zM2145.5,1274.8l3.4,4.3l-3.4,4.3l-3.4,-4.3zM2138.2,1265.1l3.4,4.3l-3.4,4.3l-3.4,-4.3zM2142.5,1264.1l3.4,4.3l-3.4,4.3l-3.4,-4.3zM2146.6,1263.0l3.4,4.3l-3.4,4.3l-3.4,-4.3zM2141.1,1264.9l3.4,4.3l-3.4,4.3l-3.4,-4.3zM2144.6,1262.9l3.4,4.3l-3.4,4.3l-3.4,-4.3zM2145.4,1263.7l3.4,4.3l-3.4,4.3l-3.4,-4.3z" stroke="#702f91" stroke-width="4.4" fill="none" stroke-linejoin="miter"/>
<rect x="935.8" y="1215.5" width="1221.0" height="695.5" stroke="#858585" stroke-width="1.8" fill="none"/>
<path d="M935.8,1911.0v-12.5M935.8,1215.5v12.5M1180.0,1911.0v-12.5M1180.0,1215.5v12.5M1424.2,1911.0v-12.5M1424.2,1215.5v12.5M1668.4,1911.0v-12.5M1668.4,1215.5v12.5M1912.6,1911.0v-12.5M1912.6,1215.5v12.5M2156.8,1911.0v-12.5M2156.8,1215.5v12.5M935.8,1910.9h12.5M2156.8,1910.9h-12.5M935.8,1841.4h12.5M2156.8,1841.4h-12.5M935.8,1771.8h12.5M2156.8,1771.8h-12.5M935.8,1702.3h12.5M2156.8,1702.3h-12.5M935.8,1632.8h12.5M2156.8,1632.8h-12.5M935.8,1563.2h12.5M2156.8,1563.2h-12.5M935.8,1493.6h12.5M2156.8,1493.6h-12.5M935.8,1424.1h12.5M2156.8,1424.1h-12.5M935.8,1354.5h12.5M2156.8,1354.5h-12.5M935.8,1285.0h12.5M2156.8,1285.0h-12.5M935.8,1215.4h12.5M2156.8,1215.4h-12.5" stroke="#454545" stroke-width="1.3" fill="none"/>
<g font-family="'Liberation Serif', serif" font-size="55" fill="#231f20" style="font-kerning:none">
<text x="540.5" y="1014.4" text-anchor="end">−20</text>
<text x="540.5" y="853.0" text-anchor="end">0</text>
<text x="540.5" y="691.7" text-anchor="end">20</text>
<text x="540.5" y="530.3" text-anchor="end">40</text>
<text x="540.5" y="369.0" text-anchor="end">60</text>
<text x="540.5" y="207.6" text-anchor="end">80</text>
<text x="540.5" y="46.3" text-anchor="end">100</text>
<text x="562.0" y="1063.6" text-anchor="middle">−120</text>
<text x="783.5" y="1063.6" text-anchor="middle">−100</text>
<text x="1005.0" y="1063.6" text-anchor="middle">−80</text>
<text x="1226.5" y="1063.6" text-anchor="middle">−60</text>
<text x="1448.0" y="1063.6" text-anchor="middle">−40</text>
<text x="1669.5" y="1063.6" text-anchor="middle">−20</text>
<text x="1891.0" y="1063.6" text-anchor="middle">0</text>
<text x="2112.5" y="1063.6" text-anchor="middle">20</text>
<text x="2334.0" y="1063.6" text-anchor="middle">40</text>
<text x="1449" y="1134" text-anchor="middle" font-size="56">Voltage / V</text>
<text transform="translate(441,511.5) rotate(-90)" text-anchor="middle" font-size="55.5">Current / µA</text>
<g letter-spacing="0.09">
<text x="686.6" y="115.5">Probe 1 with step 0.694 µA</text>
<text x="686.6" y="181.5">Probe 2 with step 0.694 µA</text>
<text x="686.6" y="248.5">Probe 1 with step 0.008 µA</text>
<text x="686.6" y="314.7">Probe 2 with step 0.008 µA</text>
<text x="686.6" y="381.8" letter-spacing="0.25">Simulation of the <tspan font-style="italic">V</tspan>-<tspan font-style="italic">I</tspan> curve</text>
<text x="686.6" y="448.6">(Plasma density (×10<tspan font-size="31.5" dy="-22" dx="3.5">10</tspan><tspan dy="22" dx="1.5">)/m</tspan><tspan font-size="31.5" dy="-22" dx="3">3</tspan><tspan dy="22" dx="1">, Temperature 1 eV)</tspan></text>
</g>
<text x="900.5" y="1933.5" text-anchor="end">−0.35</text>
<text x="900.5" y="1863.7" text-anchor="end">−0.30</text>
<text x="900.5" y="1793.8" text-anchor="end">−0.25</text>
<text x="900.5" y="1724.0" text-anchor="end">−0.20</text>
<text x="900.5" y="1654.2" text-anchor="end">−0.15</text>
<text x="900.5" y="1584.3" text-anchor="end">−0.10</text>
<text x="900.5" y="1514.5" text-anchor="end">−0.05</text>
<text x="900.5" y="1444.7" text-anchor="end">0</text>
<text x="900.5" y="1374.9" text-anchor="end">0.05</text>
<text x="900.5" y="1305.0" text-anchor="end">0.10</text>
<text x="900.5" y="1235.2" text-anchor="end">0.15</text>
<text x="933.8" y="1973.6" text-anchor="middle">−25</text>
<text x="1178.0" y="1973.6" text-anchor="middle">−20</text>
<text x="1422.2" y="1973.6" text-anchor="middle">−15</text>
<text x="1666.4" y="1973.6" text-anchor="middle">−10</text>
<text x="1910.6" y="1973.6" text-anchor="middle">−5</text>
<text x="2154.8" y="1973.6" text-anchor="middle">0</text>
<text x="1541" y="2031.5" text-anchor="middle" font-size="56">Voltage / V</text>
<text transform="translate(738,1562) rotate(-90)" text-anchor="middle" font-size="55.5">Current / µA</text>
</g>
<path d="M640.6,97.5h24M652.6,85.5v24" stroke="#3a6fb7" stroke-width="2.8" fill="none"/>
<circle cx="653" cy="165.5" r="4.7" stroke="#cb4f2b" stroke-width="1.1" fill="none"/>
<path d="M649.6,228.6l7,7M649.6,235.6l7,-7" stroke="#dfa12d" stroke-width="3.4" fill="none"/>
<path d="M653.1,294.5l4.7,6l-4.7,6l-4.7,-6z" stroke="#702f91" stroke-width="3.6" fill="none"/>
<path d="M629.5,363.5h19.5M667,363.5h10" stroke="#231f20" stroke-width="4.5" fill="none"/>
</svg>
</body></html>
